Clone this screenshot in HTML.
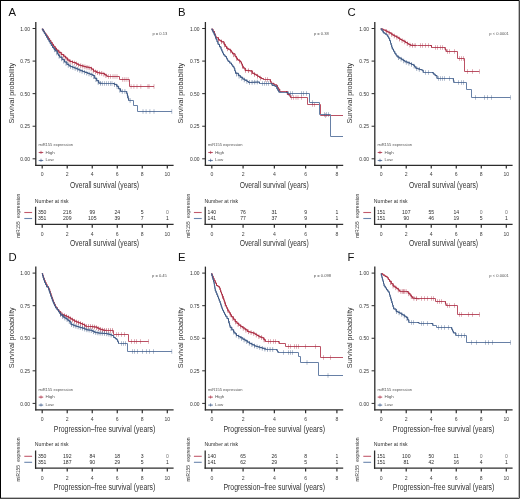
<!DOCTYPE html>
<html><head><meta charset="utf-8"><title>Kaplan-Meier survival curves by miR155 expression</title>
<style>
html,body{margin:0;padding:0;background:#fff;}
body{width:520px;height:499px;overflow:hidden;position:relative;}
svg{position:absolute;left:0;top:0;display:block;will-change:transform;font-family:"Liberation Sans",sans-serif;}
</style></head>
<body>
<svg width="520" height="499" viewBox="0 0 520 499">
<rect x="0" y="0" width="520" height="499" fill="#fff"/>
<text x="8.40" y="15.90" font-size="11.3" fill="#111">A</text>
<line x1="35.80" y1="22.00" x2="35.80" y2="165.90" stroke="#2c2c2c" stroke-width="1.3"/>
<line x1="35.20" y1="165.30" x2="173.60" y2="165.30" stroke="#2c2c2c" stroke-width="1.3"/>
<line x1="32.60" y1="28.50" x2="35.80" y2="28.50" stroke="#2c2c2c" stroke-width="1.0"/>
<text x="29.90" y="30.70" font-size="5.3" fill="#333" text-anchor="end" textLength="9.6" lengthAdjust="spacingAndGlyphs">1.00</text>
<line x1="32.60" y1="61.08" x2="35.80" y2="61.08" stroke="#2c2c2c" stroke-width="1.0"/>
<text x="29.90" y="63.28" font-size="5.3" fill="#333" text-anchor="end" textLength="9.6" lengthAdjust="spacingAndGlyphs">0.75</text>
<line x1="32.60" y1="93.65" x2="35.80" y2="93.65" stroke="#2c2c2c" stroke-width="1.0"/>
<text x="29.90" y="95.85" font-size="5.3" fill="#333" text-anchor="end" textLength="9.6" lengthAdjust="spacingAndGlyphs">0.50</text>
<line x1="32.60" y1="126.23" x2="35.80" y2="126.23" stroke="#2c2c2c" stroke-width="1.0"/>
<text x="29.90" y="128.43" font-size="5.3" fill="#333" text-anchor="end" textLength="9.6" lengthAdjust="spacingAndGlyphs">0.25</text>
<line x1="32.60" y1="158.80" x2="35.80" y2="158.80" stroke="#2c2c2c" stroke-width="1.0"/>
<text x="29.90" y="161.00" font-size="5.3" fill="#333" text-anchor="end" textLength="9.6" lengthAdjust="spacingAndGlyphs">0.00</text>
<line x1="42.20" y1="165.30" x2="42.20" y2="168.60" stroke="#2c2c2c" stroke-width="1.2"/>
<text x="42.20" y="176.25" font-size="5.1" fill="#444" text-anchor="middle">0</text>
<line x1="67.22" y1="165.30" x2="67.22" y2="168.60" stroke="#2c2c2c" stroke-width="1.2"/>
<text x="67.22" y="176.25" font-size="5.1" fill="#444" text-anchor="middle">2</text>
<line x1="92.24" y1="165.30" x2="92.24" y2="168.60" stroke="#2c2c2c" stroke-width="1.2"/>
<text x="92.24" y="176.25" font-size="5.1" fill="#444" text-anchor="middle">4</text>
<line x1="117.26" y1="165.30" x2="117.26" y2="168.60" stroke="#2c2c2c" stroke-width="1.2"/>
<text x="117.26" y="176.25" font-size="5.1" fill="#444" text-anchor="middle">6</text>
<line x1="142.28" y1="165.30" x2="142.28" y2="168.60" stroke="#2c2c2c" stroke-width="1.2"/>
<text x="142.28" y="176.25" font-size="5.1" fill="#444" text-anchor="middle">8</text>
<line x1="167.30" y1="165.30" x2="167.30" y2="168.60" stroke="#2c2c2c" stroke-width="1.2"/>
<text x="167.30" y="176.25" font-size="5.1" fill="#444" text-anchor="middle">10</text>
<text transform="translate(13.70,93.25) rotate(-90)" font-size="7.6" fill="#333" text-anchor="middle" textLength="60.7" lengthAdjust="spacingAndGlyphs">Survival probability</text>
<text x="104.60" y="187.75" font-size="8.3" fill="#333" text-anchor="middle" textLength="69.0" lengthAdjust="spacingAndGlyphs">Overall survival (years)</text>
<text x="167.30" y="35.20" font-size="4.1" fill="#555" text-anchor="end">p = 0.13</text>
<text x="38.40" y="146.40" font-size="4.1" fill="#555" textLength="34.6" lengthAdjust="spacingAndGlyphs">miR155 expression</text>
<line x1="38.70" y1="152.50" x2="43.20" y2="152.50" stroke="#bb5164" stroke-width="1.1"/>
<line x1="41.00" y1="150.80" x2="41.00" y2="154.00" stroke="#a9283f" stroke-width="0.6"/>
<text x="45.40" y="153.60" font-size="4.3" fill="#555" textLength="9.4" lengthAdjust="spacingAndGlyphs">High</text>
<line x1="38.70" y1="160.50" x2="43.20" y2="160.50" stroke="#6780a6" stroke-width="1.1"/>
<line x1="41.00" y1="158.70" x2="41.00" y2="161.90" stroke="#37537f" stroke-width="0.6"/>
<text x="45.50" y="161.40" font-size="4.3" fill="#555" textLength="8.2" lengthAdjust="spacingAndGlyphs">Low</text>
<polyline points="41.90,29.20 43.19,29.20 43.19,31.10 44.48,31.10 44.48,33.00 45.77,33.00 45.77,34.90 47.06,34.90 47.06,36.80 48.34,36.80 48.34,38.70 49.63,38.70 49.63,40.60 50.92,40.60 50.92,42.50 52.21,42.50 52.21,44.40 53.50,44.40 53.50,46.30 55.00,46.30 55.00,48.30 56.50,48.30 56.50,50.30 58.75,50.30 58.75,52.40 61.20,52.40 61.20,54.50 63.60,54.50 63.60,56.20 65.50,56.20 65.50,57.90 67.40,57.90 67.40,60.05 69.80,60.05 69.80,61.50 72.70,61.50 72.70,62.50 75.60,62.50 75.60,63.40 77.15,63.40 77.15,64.25 78.70,64.25 78.70,65.10 80.50,65.10 80.50,65.60 82.30,65.60 82.30,66.10 84.10,66.10 84.10,66.60 85.90,66.60 85.90,67.10 88.70,67.10 88.70,67.70 91.50,67.70 91.50,69.10 93.50,69.10 93.50,71.10 96.30,71.10 96.30,72.30 97.90,72.30 97.90,72.70 99.50,72.70 99.50,73.10 101.10,73.10 101.10,73.30 102.70,73.30 102.70,73.50 104.50,73.50 104.50,74.70 106.30,74.70 106.30,75.90 107.50,75.90 107.50,76.50 119.50,76.50 119.50,79.50 129.50,79.50 129.50,86.50 154.00,86.50" fill="none" stroke="#bb5164" stroke-width="1.0" stroke-linejoin="miter"/>
<polyline points="41.90,29.20 43.19,29.20 43.19,31.10 44.48,31.10 44.48,33.00 45.77,33.00 45.77,34.90 47.06,34.90 47.06,36.80 48.34,36.80 48.34,38.70 49.63,38.70 49.63,40.60 50.92,40.60 50.92,42.50 52.21,42.50 52.21,44.40 53.50,44.40 53.50,46.30 55.00,46.30 55.00,48.30 56.50,48.30 56.50,50.30 58.75,50.30 58.75,52.40 61.20,52.40 61.20,54.50 63.60,54.50 63.60,56.20 65.50,56.20 65.50,57.90 67.40,57.90 67.40,60.05 69.80,60.05 69.80,61.50 72.70,61.50 72.70,62.50 75.60,62.50 75.60,63.40 77.15,63.40 77.15,64.25 78.70,64.25 78.70,65.10 80.50,65.10 80.50,65.60 82.30,65.60 82.30,66.10 84.10,66.10 84.10,66.60 85.90,66.60 85.90,67.10 88.70,67.10 88.70,67.70 91.50,67.70 91.50,69.10 93.50,69.10 93.50,71.10 96.30,71.10 96.30,72.30 97.90,72.30 97.90,72.70 99.50,72.70 99.50,73.10 101.10,73.10 101.10,73.30 102.70,73.30 102.70,73.50 104.50,73.50 104.50,74.70 106.30,74.70 106.30,75.90 107.50,75.90 107.50,76.50" fill="none" stroke="#a9283f" stroke-width="1.0" stroke-linejoin="miter" opacity="0.8"/>
<line x1="108.50" y1="74.20" x2="108.50" y2="78.80" stroke="#a9283f" stroke-width="0.75" opacity="0.5"/>
<line x1="110.50" y1="74.20" x2="110.50" y2="78.80" stroke="#a9283f" stroke-width="0.75" opacity="0.5"/>
<line x1="113.00" y1="74.20" x2="113.00" y2="78.80" stroke="#a9283f" stroke-width="0.75" opacity="0.5"/>
<line x1="115.00" y1="74.20" x2="115.00" y2="78.80" stroke="#a9283f" stroke-width="0.75" opacity="0.5"/>
<line x1="117.00" y1="74.20" x2="117.00" y2="78.80" stroke="#a9283f" stroke-width="0.75" opacity="0.5"/>
<line x1="122.40" y1="77.20" x2="122.40" y2="81.80" stroke="#a9283f" stroke-width="0.75" opacity="0.5"/>
<line x1="124.25" y1="77.20" x2="124.25" y2="81.80" stroke="#a9283f" stroke-width="0.75" opacity="0.5"/>
<line x1="126.10" y1="77.20" x2="126.10" y2="81.80" stroke="#a9283f" stroke-width="0.75" opacity="0.5"/>
<line x1="128.10" y1="77.20" x2="128.10" y2="81.80" stroke="#a9283f" stroke-width="0.75" opacity="0.5"/>
<line x1="131.10" y1="84.20" x2="131.10" y2="88.80" stroke="#a9283f" stroke-width="0.75" opacity="0.5"/>
<line x1="133.90" y1="84.20" x2="133.90" y2="88.80" stroke="#a9283f" stroke-width="0.75" opacity="0.5"/>
<line x1="137.00" y1="84.20" x2="137.00" y2="88.80" stroke="#a9283f" stroke-width="0.75" opacity="0.5"/>
<line x1="140.80" y1="84.20" x2="140.80" y2="88.80" stroke="#a9283f" stroke-width="0.75" opacity="0.5"/>
<line x1="147.90" y1="84.20" x2="147.90" y2="88.80" stroke="#a9283f" stroke-width="0.75" opacity="0.5"/>
<line x1="149.10" y1="84.20" x2="149.10" y2="88.80" stroke="#a9283f" stroke-width="0.75" opacity="0.5"/>
<line x1="154.00" y1="84.20" x2="154.00" y2="88.80" stroke="#a9283f" stroke-width="0.75" opacity="0.5"/>
<line x1="55.50" y1="46.67" x2="55.50" y2="51.27" stroke="#a9283f" stroke-width="0.75" opacity="0.65"/>
<line x1="57.60" y1="49.03" x2="57.60" y2="53.63" stroke="#a9283f" stroke-width="0.75" opacity="0.65"/>
<line x1="59.70" y1="50.91" x2="59.70" y2="55.51" stroke="#a9283f" stroke-width="0.75" opacity="0.65"/>
<line x1="61.80" y1="52.62" x2="61.80" y2="57.22" stroke="#a9283f" stroke-width="0.75" opacity="0.65"/>
<line x1="63.90" y1="54.17" x2="63.90" y2="58.77" stroke="#a9283f" stroke-width="0.75" opacity="0.65"/>
<line x1="66.00" y1="56.17" x2="66.00" y2="60.77" stroke="#a9283f" stroke-width="0.75" opacity="0.65"/>
<line x1="68.10" y1="58.17" x2="68.10" y2="62.77" stroke="#a9283f" stroke-width="0.75" opacity="0.65"/>
<line x1="70.20" y1="59.34" x2="70.20" y2="63.94" stroke="#a9283f" stroke-width="0.75" opacity="0.65"/>
<line x1="72.30" y1="60.06" x2="72.30" y2="64.66" stroke="#a9283f" stroke-width="0.75" opacity="0.65"/>
<line x1="74.40" y1="60.73" x2="74.40" y2="65.33" stroke="#a9283f" stroke-width="0.75" opacity="0.65"/>
<line x1="76.50" y1="61.59" x2="76.50" y2="66.19" stroke="#a9283f" stroke-width="0.75" opacity="0.65"/>
<line x1="78.60" y1="62.75" x2="78.60" y2="67.35" stroke="#a9283f" stroke-width="0.75" opacity="0.65"/>
<line x1="80.70" y1="63.36" x2="80.70" y2="67.96" stroke="#a9283f" stroke-width="0.75" opacity="0.65"/>
<line x1="82.80" y1="63.94" x2="82.80" y2="68.54" stroke="#a9283f" stroke-width="0.75" opacity="0.65"/>
<line x1="84.90" y1="64.52" x2="84.90" y2="69.12" stroke="#a9283f" stroke-width="0.75" opacity="0.65"/>
<line x1="87.00" y1="65.04" x2="87.00" y2="69.64" stroke="#a9283f" stroke-width="0.75" opacity="0.65"/>
<line x1="89.10" y1="65.60" x2="89.10" y2="70.20" stroke="#a9283f" stroke-width="0.75" opacity="0.65"/>
<line x1="91.20" y1="66.65" x2="91.20" y2="71.25" stroke="#a9283f" stroke-width="0.75" opacity="0.65"/>
<line x1="93.30" y1="68.60" x2="93.30" y2="73.20" stroke="#a9283f" stroke-width="0.75" opacity="0.65"/>
<line x1="95.40" y1="69.61" x2="95.40" y2="74.21" stroke="#a9283f" stroke-width="0.75" opacity="0.65"/>
<line x1="97.50" y1="70.30" x2="97.50" y2="74.90" stroke="#a9283f" stroke-width="0.75" opacity="0.65"/>
<line x1="99.60" y1="70.81" x2="99.60" y2="75.41" stroke="#a9283f" stroke-width="0.75" opacity="0.65"/>
<line x1="101.70" y1="71.07" x2="101.70" y2="75.67" stroke="#a9283f" stroke-width="0.75" opacity="0.65"/>
<line x1="103.80" y1="71.93" x2="103.80" y2="76.53" stroke="#a9283f" stroke-width="0.75" opacity="0.65"/>
<line x1="105.90" y1="73.33" x2="105.90" y2="77.93" stroke="#a9283f" stroke-width="0.75" opacity="0.65"/>
<polyline points="41.90,29.20 43.08,29.20 43.08,31.23 44.26,31.23 44.26,33.27 45.43,33.27 45.43,35.30 46.61,35.30 46.61,37.33 47.79,37.33 47.79,39.37 48.97,39.37 48.97,41.40 50.14,41.40 50.14,43.43 51.32,43.43 51.32,45.47 52.50,45.47 52.50,47.50 53.95,47.50 53.95,49.20 55.40,49.20 55.40,50.90 57.30,50.90 57.30,53.80 58.50,53.80 58.50,55.50 59.70,55.50 59.70,57.20 62.10,57.20 62.10,59.60 64.50,59.60 64.50,62.00 66.90,62.00 66.90,64.40 69.00,64.40 69.00,65.90 70.75,65.90 70.75,66.60 72.50,66.60 72.50,67.30 74.50,67.30 74.50,68.10 76.50,68.10 76.50,68.90 78.40,68.90 78.40,69.80 80.30,69.80 80.30,70.70 82.70,70.70 82.70,71.60 85.10,71.60 85.10,72.50 87.50,72.50 87.50,73.40 89.90,73.40 89.90,74.30 92.70,74.30 92.70,75.50 94.70,75.50 94.70,78.30 96.70,78.30 96.70,80.70 98.70,80.70 98.70,83.10 100.30,83.10 100.30,83.30 101.90,83.30 101.90,83.50 113.00,83.50 114.25,83.50 114.25,84.40 116.75,84.40 116.75,86.30 118.60,86.30 118.60,88.80 120.50,88.80 120.50,91.30 122.40,91.30 122.40,91.50 126.10,91.50 126.75,91.50 126.75,93.60 127.40,93.60 127.40,95.70 128.00,95.70 128.00,98.10 128.60,98.10 128.60,100.50 133.50,100.50 133.50,105.50 137.50,105.50 137.50,111.50 171.75,111.50" fill="none" stroke="#6780a6" stroke-width="1.0" stroke-linejoin="miter"/>
<polyline points="41.90,29.20 43.08,29.20 43.08,31.23 44.26,31.23 44.26,33.27 45.43,33.27 45.43,35.30 46.61,35.30 46.61,37.33 47.79,37.33 47.79,39.37 48.97,39.37 48.97,41.40 50.14,41.40 50.14,43.43 51.32,43.43 51.32,45.47 52.50,45.47 52.50,47.50 53.95,47.50 53.95,49.20 55.40,49.20 55.40,50.90 57.30,50.90 57.30,53.80 58.50,53.80 58.50,55.50 59.70,55.50 59.70,57.20 62.10,57.20 62.10,59.60 64.50,59.60 64.50,62.00 66.90,62.00 66.90,64.40 69.00,64.40 69.00,65.90 70.75,65.90 70.75,66.60 72.50,66.60 72.50,67.30 74.50,67.30 74.50,68.10 76.50,68.10 76.50,68.90 78.40,68.90 78.40,69.80 80.30,69.80 80.30,70.70 82.70,70.70 82.70,71.60 85.10,71.60 85.10,72.50 87.50,72.50 87.50,73.40 89.90,73.40 89.90,74.30 92.70,74.30 92.70,75.50 94.70,75.50 94.70,78.30 96.70,78.30 96.70,80.70 98.70,80.70 98.70,83.10 100.30,83.10 100.30,83.30 101.90,83.30 101.90,83.50" fill="none" stroke="#37537f" stroke-width="1.0" stroke-linejoin="miter" opacity="0.8"/>
<polyline points="113.00,83.50 114.25,83.50 114.25,84.40 116.75,84.40 116.75,86.30 118.60,86.30 118.60,88.80 120.50,88.80 120.50,91.30 122.40,91.30 122.40,91.50" fill="none" stroke="#37537f" stroke-width="1.0" stroke-linejoin="miter" opacity="0.8"/>
<polyline points="126.10,91.50 126.75,91.50 126.75,93.60 127.40,93.60 127.40,95.70 128.00,95.70 128.00,98.10 128.60,98.10 128.60,100.50" fill="none" stroke="#37537f" stroke-width="1.0" stroke-linejoin="miter" opacity="0.8"/>
<line x1="102.50" y1="81.20" x2="102.50" y2="85.80" stroke="#37537f" stroke-width="0.75" opacity="0.5"/>
<line x1="104.50" y1="81.20" x2="104.50" y2="85.80" stroke="#37537f" stroke-width="0.75" opacity="0.5"/>
<line x1="106.50" y1="81.20" x2="106.50" y2="85.80" stroke="#37537f" stroke-width="0.75" opacity="0.5"/>
<line x1="108.50" y1="81.20" x2="108.50" y2="85.80" stroke="#37537f" stroke-width="0.75" opacity="0.5"/>
<line x1="110.50" y1="81.20" x2="110.50" y2="85.80" stroke="#37537f" stroke-width="0.75" opacity="0.5"/>
<line x1="112.00" y1="81.20" x2="112.00" y2="85.80" stroke="#37537f" stroke-width="0.75" opacity="0.5"/>
<line x1="143.00" y1="109.20" x2="143.00" y2="113.80" stroke="#37537f" stroke-width="0.75" opacity="0.5"/>
<line x1="146.10" y1="109.20" x2="146.10" y2="113.80" stroke="#37537f" stroke-width="0.75" opacity="0.5"/>
<line x1="149.90" y1="109.20" x2="149.90" y2="113.80" stroke="#37537f" stroke-width="0.75" opacity="0.5"/>
<line x1="154.00" y1="109.20" x2="154.00" y2="113.80" stroke="#37537f" stroke-width="0.75" opacity="0.5"/>
<line x1="171.75" y1="109.20" x2="171.75" y2="113.80" stroke="#37537f" stroke-width="0.75" opacity="0.5"/>
<line x1="54.50" y1="47.54" x2="54.50" y2="52.14" stroke="#37537f" stroke-width="0.75" opacity="0.65"/>
<line x1="56.80" y1="50.74" x2="56.80" y2="55.34" stroke="#37537f" stroke-width="0.75" opacity="0.65"/>
<line x1="59.10" y1="54.05" x2="59.10" y2="58.65" stroke="#37537f" stroke-width="0.75" opacity="0.65"/>
<line x1="61.40" y1="56.60" x2="61.40" y2="61.20" stroke="#37537f" stroke-width="0.75" opacity="0.65"/>
<line x1="63.70" y1="58.90" x2="63.70" y2="63.50" stroke="#37537f" stroke-width="0.75" opacity="0.65"/>
<line x1="66.00" y1="61.20" x2="66.00" y2="65.80" stroke="#37537f" stroke-width="0.75" opacity="0.65"/>
<line x1="68.30" y1="63.10" x2="68.30" y2="67.70" stroke="#37537f" stroke-width="0.75" opacity="0.65"/>
<line x1="70.60" y1="64.24" x2="70.60" y2="68.84" stroke="#37537f" stroke-width="0.75" opacity="0.65"/>
<line x1="72.90" y1="65.16" x2="72.90" y2="69.76" stroke="#37537f" stroke-width="0.75" opacity="0.65"/>
<line x1="75.20" y1="66.08" x2="75.20" y2="70.68" stroke="#37537f" stroke-width="0.75" opacity="0.65"/>
<line x1="77.50" y1="67.07" x2="77.50" y2="71.67" stroke="#37537f" stroke-width="0.75" opacity="0.65"/>
<line x1="79.80" y1="68.16" x2="79.80" y2="72.76" stroke="#37537f" stroke-width="0.75" opacity="0.65"/>
<line x1="82.10" y1="69.07" x2="82.10" y2="73.67" stroke="#37537f" stroke-width="0.75" opacity="0.65"/>
<line x1="84.40" y1="69.94" x2="84.40" y2="74.54" stroke="#37537f" stroke-width="0.75" opacity="0.65"/>
<line x1="86.70" y1="70.80" x2="86.70" y2="75.40" stroke="#37537f" stroke-width="0.75" opacity="0.65"/>
<line x1="89.00" y1="71.66" x2="89.00" y2="76.26" stroke="#37537f" stroke-width="0.75" opacity="0.65"/>
<line x1="91.30" y1="72.60" x2="91.30" y2="77.20" stroke="#37537f" stroke-width="0.75" opacity="0.65"/>
<line x1="93.60" y1="74.46" x2="93.60" y2="79.06" stroke="#37537f" stroke-width="0.75" opacity="0.65"/>
<line x1="95.90" y1="77.44" x2="95.90" y2="82.04" stroke="#37537f" stroke-width="0.75" opacity="0.65"/>
<line x1="98.20" y1="80.20" x2="98.20" y2="84.80" stroke="#37537f" stroke-width="0.75" opacity="0.65"/>
<line x1="100.50" y1="81.02" x2="100.50" y2="85.62" stroke="#37537f" stroke-width="0.75" opacity="0.65"/>
<line x1="114.50" y1="82.29" x2="114.50" y2="86.89" stroke="#37537f" stroke-width="0.75" opacity="0.65"/>
<line x1="117.10" y1="84.47" x2="117.10" y2="89.07" stroke="#37537f" stroke-width="0.75" opacity="0.65"/>
<line x1="119.70" y1="87.95" x2="119.70" y2="92.55" stroke="#37537f" stroke-width="0.75" opacity="0.65"/>
<line x1="122.30" y1="89.19" x2="122.30" y2="93.79" stroke="#37537f" stroke-width="0.75" opacity="0.65"/>
<line x1="124.90" y1="89.20" x2="124.90" y2="93.80" stroke="#37537f" stroke-width="0.75" opacity="0.65"/>
<line x1="127.50" y1="93.80" x2="127.50" y2="98.40" stroke="#37537f" stroke-width="0.75" opacity="0.65"/>
<line x1="130.10" y1="98.20" x2="130.10" y2="102.80" stroke="#37537f" stroke-width="0.75" opacity="0.65"/>
<text x="34.80" y="202.55" font-size="5.1" fill="#2e2e2e" textLength="33.8" lengthAdjust="spacingAndGlyphs">Number at risk</text>
<line x1="35.60" y1="206.70" x2="35.60" y2="225.00" stroke="#2c2c2c" stroke-width="1.3"/>
<line x1="35.00" y1="224.40" x2="173.60" y2="224.40" stroke="#2c2c2c" stroke-width="1.3"/>
<line x1="42.20" y1="224.40" x2="42.20" y2="227.80" stroke="#2c2c2c" stroke-width="1.2"/>
<text x="42.20" y="235.75" font-size="5.1" fill="#444" text-anchor="middle">0</text>
<text x="42.20" y="213.85" font-size="5.1" fill="#2e2e2e" text-anchor="middle">350</text>
<text x="42.20" y="220.15" font-size="5.1" fill="#2e2e2e" text-anchor="middle">351</text>
<line x1="67.22" y1="224.40" x2="67.22" y2="227.80" stroke="#2c2c2c" stroke-width="1.2"/>
<text x="67.22" y="235.75" font-size="5.1" fill="#444" text-anchor="middle">2</text>
<text x="67.22" y="213.85" font-size="5.1" fill="#2e2e2e" text-anchor="middle">216</text>
<text x="67.22" y="220.15" font-size="5.1" fill="#2e2e2e" text-anchor="middle">209</text>
<line x1="92.24" y1="224.40" x2="92.24" y2="227.80" stroke="#2c2c2c" stroke-width="1.2"/>
<text x="92.24" y="235.75" font-size="5.1" fill="#444" text-anchor="middle">4</text>
<text x="92.24" y="213.85" font-size="5.1" fill="#2e2e2e" text-anchor="middle">99</text>
<text x="92.24" y="220.15" font-size="5.1" fill="#2e2e2e" text-anchor="middle">105</text>
<line x1="117.26" y1="224.40" x2="117.26" y2="227.80" stroke="#2c2c2c" stroke-width="1.2"/>
<text x="117.26" y="235.75" font-size="5.1" fill="#444" text-anchor="middle">6</text>
<text x="117.26" y="213.85" font-size="5.1" fill="#2e2e2e" text-anchor="middle">24</text>
<text x="117.26" y="220.15" font-size="5.1" fill="#2e2e2e" text-anchor="middle">39</text>
<line x1="142.28" y1="224.40" x2="142.28" y2="227.80" stroke="#2c2c2c" stroke-width="1.2"/>
<text x="142.28" y="235.75" font-size="5.1" fill="#444" text-anchor="middle">8</text>
<text x="142.28" y="213.85" font-size="5.1" fill="#2e2e2e" text-anchor="middle">5</text>
<text x="142.28" y="220.15" font-size="5.1" fill="#2e2e2e" text-anchor="middle">7</text>
<line x1="167.30" y1="224.40" x2="167.30" y2="227.80" stroke="#2c2c2c" stroke-width="1.2"/>
<text x="167.30" y="235.75" font-size="5.1" fill="#444" text-anchor="middle">10</text>
<text x="167.30" y="213.85" font-size="5.1" fill="#777" text-anchor="middle">0</text>
<text x="167.30" y="220.15" font-size="5.1" fill="#2e2e2e" text-anchor="middle">1</text>
<text x="104.60" y="245.80" font-size="8.3" fill="#333" text-anchor="middle" textLength="69.0" lengthAdjust="spacingAndGlyphs">Overall survival (years)</text>
<text transform="translate(20.30,237.70) rotate(-90)" font-size="5.2" fill="#333" textLength="16.3" lengthAdjust="spacingAndGlyphs">miR155</text>
<text transform="translate(20.30,217.90) rotate(-90)" font-size="5.2" fill="#333" textLength="24.3" lengthAdjust="spacingAndGlyphs">expression</text>
<line x1="24.30" y1="212.50" x2="32.10" y2="212.50" stroke="#c25a6c" stroke-width="1.1"/>
<line x1="24.30" y1="218.50" x2="32.10" y2="218.50" stroke="#6a85ad" stroke-width="1.1"/>
<text x="178.00" y="15.90" font-size="11.3" fill="#111">B</text>
<line x1="205.40" y1="22.00" x2="205.40" y2="165.90" stroke="#2c2c2c" stroke-width="1.3"/>
<line x1="204.80" y1="165.30" x2="343.20" y2="165.30" stroke="#2c2c2c" stroke-width="1.3"/>
<line x1="202.20" y1="28.50" x2="205.40" y2="28.50" stroke="#2c2c2c" stroke-width="1.0"/>
<text x="199.50" y="30.70" font-size="5.3" fill="#333" text-anchor="end" textLength="9.6" lengthAdjust="spacingAndGlyphs">1.00</text>
<line x1="202.20" y1="61.08" x2="205.40" y2="61.08" stroke="#2c2c2c" stroke-width="1.0"/>
<text x="199.50" y="63.28" font-size="5.3" fill="#333" text-anchor="end" textLength="9.6" lengthAdjust="spacingAndGlyphs">0.75</text>
<line x1="202.20" y1="93.65" x2="205.40" y2="93.65" stroke="#2c2c2c" stroke-width="1.0"/>
<text x="199.50" y="95.85" font-size="5.3" fill="#333" text-anchor="end" textLength="9.6" lengthAdjust="spacingAndGlyphs">0.50</text>
<line x1="202.20" y1="126.23" x2="205.40" y2="126.23" stroke="#2c2c2c" stroke-width="1.0"/>
<text x="199.50" y="128.43" font-size="5.3" fill="#333" text-anchor="end" textLength="9.6" lengthAdjust="spacingAndGlyphs">0.25</text>
<line x1="202.20" y1="158.80" x2="205.40" y2="158.80" stroke="#2c2c2c" stroke-width="1.0"/>
<text x="199.50" y="161.00" font-size="5.3" fill="#333" text-anchor="end" textLength="9.6" lengthAdjust="spacingAndGlyphs">0.00</text>
<line x1="211.80" y1="165.30" x2="211.80" y2="168.60" stroke="#2c2c2c" stroke-width="1.2"/>
<text x="211.80" y="176.25" font-size="5.1" fill="#444" text-anchor="middle">0</text>
<line x1="243.08" y1="165.30" x2="243.08" y2="168.60" stroke="#2c2c2c" stroke-width="1.2"/>
<text x="243.08" y="176.25" font-size="5.1" fill="#444" text-anchor="middle">2</text>
<line x1="274.35" y1="165.30" x2="274.35" y2="168.60" stroke="#2c2c2c" stroke-width="1.2"/>
<text x="274.35" y="176.25" font-size="5.1" fill="#444" text-anchor="middle">4</text>
<line x1="305.62" y1="165.30" x2="305.62" y2="168.60" stroke="#2c2c2c" stroke-width="1.2"/>
<text x="305.62" y="176.25" font-size="5.1" fill="#444" text-anchor="middle">6</text>
<line x1="336.90" y1="165.30" x2="336.90" y2="168.60" stroke="#2c2c2c" stroke-width="1.2"/>
<text x="336.90" y="176.25" font-size="5.1" fill="#444" text-anchor="middle">8</text>
<text transform="translate(182.80,93.25) rotate(-90)" font-size="7.6" fill="#333" text-anchor="middle" textLength="60.7" lengthAdjust="spacingAndGlyphs">Survival probability</text>
<text x="274.20" y="187.75" font-size="8.3" fill="#333" text-anchor="middle" textLength="69.0" lengthAdjust="spacingAndGlyphs">Overall survival (years)</text>
<text x="328.80" y="35.20" font-size="4.1" fill="#555" text-anchor="end">p = 0.38</text>
<text x="208.00" y="146.40" font-size="4.1" fill="#555" textLength="34.6" lengthAdjust="spacingAndGlyphs">miR155 expression</text>
<line x1="208.30" y1="152.50" x2="212.80" y2="152.50" stroke="#bb5164" stroke-width="1.1"/>
<line x1="210.60" y1="150.80" x2="210.60" y2="154.00" stroke="#a9283f" stroke-width="0.6"/>
<text x="215.00" y="153.60" font-size="4.3" fill="#555" textLength="9.4" lengthAdjust="spacingAndGlyphs">High</text>
<line x1="208.30" y1="160.50" x2="212.80" y2="160.50" stroke="#6780a6" stroke-width="1.1"/>
<line x1="210.60" y1="158.70" x2="210.60" y2="161.90" stroke="#37537f" stroke-width="0.6"/>
<text x="215.10" y="161.40" font-size="4.3" fill="#555" textLength="8.2" lengthAdjust="spacingAndGlyphs">Low</text>
<polyline points="211.50,29.20 213.00,29.20 213.00,31.50 214.50,31.50 214.50,33.80 215.25,33.80 215.25,35.80 216.00,35.80 216.00,37.80 218.50,37.80 218.50,39.80 220.00,39.80 220.00,40.80 221.50,40.80 221.50,41.80 224.00,41.80 224.00,44.30 225.25,44.30 225.25,46.30 226.50,46.30 226.50,48.30 228.25,48.30 228.25,49.30 230.00,49.30 230.00,50.30 231.25,50.30 231.25,52.05 232.50,52.05 232.50,53.80 235.00,53.80 235.00,56.30 236.25,56.30 236.25,58.10 237.50,58.10 237.50,59.90 239.00,59.90 239.00,60.90 240.50,60.90 240.50,61.90 241.40,61.90 241.40,63.93 242.30,63.93 242.30,65.97 243.20,65.97 243.20,68.00 245.10,68.00 245.10,70.40 247.50,70.40 247.50,70.65 249.90,70.65 249.90,70.90 252.30,70.90 252.30,73.30 254.25,73.30 254.25,74.30 256.20,74.30 256.20,75.30 257.85,75.30 257.85,76.45 259.50,76.45 259.50,77.60 261.45,77.60 261.45,78.55 263.40,78.55 263.40,79.50 269.60,79.50 270.35,79.50 270.35,81.45 271.10,81.45 271.10,83.40 274.00,83.40 274.00,84.90 276.80,84.90 276.80,85.80 277.55,85.80 277.55,87.50 278.30,87.50 278.30,89.20 279.70,89.20 279.70,91.50 285.50,91.50 287.40,91.50 287.40,94.40 289.90,94.40 289.90,96.30 290.50,96.30 290.50,97.50 307.50,97.50 307.50,104.50 320.50,104.50 320.50,115.50 343.00,115.50" fill="none" stroke="#bb5164" stroke-width="1.0" stroke-linejoin="miter"/>
<polyline points="211.50,29.20 213.00,29.20 213.00,31.50 214.50,31.50 214.50,33.80 215.25,33.80 215.25,35.80 216.00,35.80 216.00,37.80 218.50,37.80 218.50,39.80 220.00,39.80 220.00,40.80 221.50,40.80 221.50,41.80 224.00,41.80 224.00,44.30 225.25,44.30 225.25,46.30 226.50,46.30 226.50,48.30 228.25,48.30 228.25,49.30 230.00,49.30 230.00,50.30 231.25,50.30 231.25,52.05 232.50,52.05 232.50,53.80 235.00,53.80 235.00,56.30 236.25,56.30 236.25,58.10 237.50,58.10 237.50,59.90 239.00,59.90 239.00,60.90 240.50,60.90 240.50,61.90 241.40,61.90 241.40,63.93 242.30,63.93 242.30,65.97 243.20,65.97 243.20,68.00 245.10,68.00 245.10,70.40 247.50,70.40 247.50,70.65 249.90,70.65 249.90,70.90 252.30,70.90 252.30,73.30 254.25,73.30 254.25,74.30 256.20,74.30 256.20,75.30 257.85,75.30 257.85,76.45 259.50,76.45 259.50,77.60 261.45,77.60 261.45,78.55 263.40,78.55 263.40,79.50" fill="none" stroke="#a9283f" stroke-width="1.0" stroke-linejoin="miter" opacity="0.8"/>
<polyline points="269.60,79.50 270.35,79.50 270.35,81.45 271.10,81.45 271.10,83.40 274.00,83.40 274.00,84.90 276.80,84.90 276.80,85.80 277.55,85.80 277.55,87.50 278.30,87.50 278.30,89.20 279.70,89.20 279.70,91.50" fill="none" stroke="#a9283f" stroke-width="1.0" stroke-linejoin="miter" opacity="0.8"/>
<polyline points="285.50,91.50 287.40,91.50 287.40,94.40 289.90,94.40 289.90,96.30 290.50,96.30 290.50,97.50" fill="none" stroke="#a9283f" stroke-width="1.0" stroke-linejoin="miter" opacity="0.8"/>
<line x1="265.50" y1="77.20" x2="265.50" y2="81.80" stroke="#a9283f" stroke-width="0.75" opacity="0.5"/>
<line x1="267.50" y1="77.20" x2="267.50" y2="81.80" stroke="#a9283f" stroke-width="0.75" opacity="0.5"/>
<line x1="291.50" y1="95.20" x2="291.50" y2="99.80" stroke="#a9283f" stroke-width="0.75" opacity="0.5"/>
<line x1="293.50" y1="95.20" x2="293.50" y2="99.80" stroke="#a9283f" stroke-width="0.75" opacity="0.5"/>
<line x1="296.00" y1="95.20" x2="296.00" y2="99.80" stroke="#a9283f" stroke-width="0.75" opacity="0.5"/>
<line x1="298.00" y1="95.20" x2="298.00" y2="99.80" stroke="#a9283f" stroke-width="0.75" opacity="0.5"/>
<line x1="301.50" y1="95.20" x2="301.50" y2="99.80" stroke="#a9283f" stroke-width="0.75" opacity="0.5"/>
<line x1="312.50" y1="102.20" x2="312.50" y2="106.80" stroke="#a9283f" stroke-width="0.75" opacity="0.5"/>
<line x1="314.50" y1="102.20" x2="314.50" y2="106.80" stroke="#a9283f" stroke-width="0.75" opacity="0.5"/>
<line x1="325.50" y1="113.20" x2="325.50" y2="117.80" stroke="#a9283f" stroke-width="0.75" opacity="0.5"/>
<line x1="218.50" y1="37.50" x2="218.50" y2="42.10" stroke="#a9283f" stroke-width="0.75" opacity="0.65"/>
<line x1="221.50" y1="39.50" x2="221.50" y2="44.10" stroke="#a9283f" stroke-width="0.75" opacity="0.65"/>
<line x1="224.50" y1="42.80" x2="224.50" y2="47.40" stroke="#a9283f" stroke-width="0.75" opacity="0.65"/>
<line x1="227.50" y1="46.57" x2="227.50" y2="51.17" stroke="#a9283f" stroke-width="0.75" opacity="0.65"/>
<line x1="230.50" y1="48.70" x2="230.50" y2="53.30" stroke="#a9283f" stroke-width="0.75" opacity="0.65"/>
<line x1="233.50" y1="52.50" x2="233.50" y2="57.10" stroke="#a9283f" stroke-width="0.75" opacity="0.65"/>
<line x1="236.50" y1="56.16" x2="236.50" y2="60.76" stroke="#a9283f" stroke-width="0.75" opacity="0.65"/>
<line x1="239.50" y1="58.93" x2="239.50" y2="63.53" stroke="#a9283f" stroke-width="0.75" opacity="0.65"/>
<line x1="242.50" y1="64.12" x2="242.50" y2="68.72" stroke="#a9283f" stroke-width="0.75" opacity="0.65"/>
<line x1="245.50" y1="68.14" x2="245.50" y2="72.74" stroke="#a9283f" stroke-width="0.75" opacity="0.65"/>
<line x1="248.50" y1="68.45" x2="248.50" y2="73.05" stroke="#a9283f" stroke-width="0.75" opacity="0.65"/>
<line x1="251.50" y1="70.20" x2="251.50" y2="74.80" stroke="#a9283f" stroke-width="0.75" opacity="0.65"/>
<line x1="254.50" y1="72.13" x2="254.50" y2="76.73" stroke="#a9283f" stroke-width="0.75" opacity="0.65"/>
<line x1="257.50" y1="73.91" x2="257.50" y2="78.51" stroke="#a9283f" stroke-width="0.75" opacity="0.65"/>
<line x1="260.50" y1="75.79" x2="260.50" y2="80.39" stroke="#a9283f" stroke-width="0.75" opacity="0.65"/>
<polyline points="211.50,29.20 212.38,29.20 212.38,30.97 213.25,30.97 213.25,32.75 214.12,32.75 214.12,34.52 215.00,34.52 215.00,36.30 215.50,36.30 215.50,37.80 216.00,37.80 216.00,39.30 217.00,39.30 217.00,41.80 218.00,41.80 218.00,44.30 219.50,44.30 219.50,46.80 221.00,46.80 221.00,49.30 221.83,49.30 221.83,51.17 222.67,51.17 222.67,53.03 223.50,53.03 223.50,54.90 225.00,54.90 225.00,56.60 226.50,56.60 226.50,58.30 227.25,58.30 227.25,59.80 228.00,59.80 228.00,61.30 229.75,61.30 229.75,63.10 231.50,63.10 231.50,64.90 232.75,64.90 232.75,66.60 234.00,66.60 234.00,68.30 234.75,68.30 234.75,70.80 235.50,70.80 235.50,73.30 238.40,73.30 238.40,75.70 240.55,75.70 240.55,77.40 242.70,77.40 242.70,79.10 244.85,79.10 244.85,80.30 247.00,80.30 247.00,81.50 248.50,81.50 248.50,82.50 250.50,82.50 250.50,82.40 252.50,82.40 252.50,82.30 254.50,82.30 254.50,82.20 256.50,82.20 256.50,82.10 258.50,82.10 258.50,82.00 259.50,82.00 259.50,83.50 270.60,83.50 272.00,83.50 272.00,85.30 274.90,85.30 274.90,86.30 276.80,86.30 276.80,88.70 277.80,88.70 277.80,90.40 278.80,90.40 278.80,92.10 280.70,92.10 280.70,92.50 286.10,92.50 288.00,92.50 288.00,93.50 309.50,93.50 309.50,102.50 319.50,102.50 319.50,114.50 330.50,114.50 330.50,136.50 343.00,136.50" fill="none" stroke="#6780a6" stroke-width="1.0" stroke-linejoin="miter"/>
<polyline points="211.50,29.20 212.38,29.20 212.38,30.97 213.25,30.97 213.25,32.75 214.12,32.75 214.12,34.52 215.00,34.52 215.00,36.30 215.50,36.30 215.50,37.80 216.00,37.80 216.00,39.30 217.00,39.30 217.00,41.80 218.00,41.80 218.00,44.30 219.50,44.30 219.50,46.80 221.00,46.80 221.00,49.30 221.83,49.30 221.83,51.17 222.67,51.17 222.67,53.03 223.50,53.03 223.50,54.90 225.00,54.90 225.00,56.60 226.50,56.60 226.50,58.30 227.25,58.30 227.25,59.80 228.00,59.80 228.00,61.30 229.75,61.30 229.75,63.10 231.50,63.10 231.50,64.90 232.75,64.90 232.75,66.60 234.00,66.60 234.00,68.30 234.75,68.30 234.75,70.80 235.50,70.80 235.50,73.30 238.40,73.30 238.40,75.70 240.55,75.70 240.55,77.40 242.70,77.40 242.70,79.10 244.85,79.10 244.85,80.30 247.00,80.30 247.00,81.50 248.50,81.50 248.50,82.50 250.50,82.50 250.50,82.40 252.50,82.40 252.50,82.30 254.50,82.30 254.50,82.20 256.50,82.20 256.50,82.10 258.50,82.10 258.50,82.00 259.50,82.00 259.50,83.50" fill="none" stroke="#37537f" stroke-width="1.0" stroke-linejoin="miter" opacity="0.8"/>
<polyline points="270.60,83.50 272.00,83.50 272.00,85.30 274.90,85.30 274.90,86.30 276.80,86.30 276.80,88.70 277.80,88.70 277.80,90.40 278.80,90.40 278.80,92.10 280.70,92.10 280.70,92.50" fill="none" stroke="#37537f" stroke-width="1.0" stroke-linejoin="miter" opacity="0.8"/>
<polyline points="286.10,92.50 288.00,92.50 288.00,93.50" fill="none" stroke="#37537f" stroke-width="1.0" stroke-linejoin="miter" opacity="0.8"/>
<line x1="262.50" y1="81.20" x2="262.50" y2="85.80" stroke="#37537f" stroke-width="0.75" opacity="0.5"/>
<line x1="264.50" y1="81.20" x2="264.50" y2="85.80" stroke="#37537f" stroke-width="0.75" opacity="0.5"/>
<line x1="266.50" y1="81.20" x2="266.50" y2="85.80" stroke="#37537f" stroke-width="0.75" opacity="0.5"/>
<line x1="268.50" y1="81.20" x2="268.50" y2="85.80" stroke="#37537f" stroke-width="0.75" opacity="0.5"/>
<line x1="288.50" y1="91.20" x2="288.50" y2="95.80" stroke="#37537f" stroke-width="0.75" opacity="0.5"/>
<line x1="290.50" y1="91.20" x2="290.50" y2="95.80" stroke="#37537f" stroke-width="0.75" opacity="0.5"/>
<line x1="292.50" y1="91.20" x2="292.50" y2="95.80" stroke="#37537f" stroke-width="0.75" opacity="0.5"/>
<line x1="301.50" y1="91.20" x2="301.50" y2="95.80" stroke="#37537f" stroke-width="0.75" opacity="0.5"/>
<line x1="303.50" y1="91.20" x2="303.50" y2="95.80" stroke="#37537f" stroke-width="0.75" opacity="0.5"/>
<line x1="306.50" y1="91.20" x2="306.50" y2="95.80" stroke="#37537f" stroke-width="0.75" opacity="0.5"/>
<line x1="312.50" y1="100.20" x2="312.50" y2="104.80" stroke="#37537f" stroke-width="0.75" opacity="0.5"/>
<line x1="324.50" y1="112.20" x2="324.50" y2="116.80" stroke="#37537f" stroke-width="0.75" opacity="0.5"/>
<line x1="326.50" y1="112.20" x2="326.50" y2="116.80" stroke="#37537f" stroke-width="0.75" opacity="0.5"/>
<line x1="328.50" y1="112.20" x2="328.50" y2="116.80" stroke="#37537f" stroke-width="0.75" opacity="0.5"/>
<line x1="236.50" y1="71.83" x2="236.50" y2="76.43" stroke="#37537f" stroke-width="0.75" opacity="0.65"/>
<line x1="239.10" y1="73.95" x2="239.10" y2="78.55" stroke="#37537f" stroke-width="0.75" opacity="0.65"/>
<line x1="241.70" y1="76.01" x2="241.70" y2="80.61" stroke="#37537f" stroke-width="0.75" opacity="0.65"/>
<line x1="244.30" y1="77.69" x2="244.30" y2="82.29" stroke="#37537f" stroke-width="0.75" opacity="0.65"/>
<line x1="246.90" y1="79.14" x2="246.90" y2="83.74" stroke="#37537f" stroke-width="0.75" opacity="0.65"/>
<line x1="249.50" y1="80.15" x2="249.50" y2="84.75" stroke="#37537f" stroke-width="0.75" opacity="0.65"/>
<line x1="252.10" y1="80.02" x2="252.10" y2="84.62" stroke="#37537f" stroke-width="0.75" opacity="0.65"/>
<line x1="254.70" y1="79.89" x2="254.70" y2="84.49" stroke="#37537f" stroke-width="0.75" opacity="0.65"/>
<line x1="257.30" y1="79.76" x2="257.30" y2="84.36" stroke="#37537f" stroke-width="0.75" opacity="0.65"/>
<text x="204.40" y="202.55" font-size="5.1" fill="#2e2e2e" textLength="33.8" lengthAdjust="spacingAndGlyphs">Number at risk</text>
<line x1="205.20" y1="206.70" x2="205.20" y2="225.00" stroke="#2c2c2c" stroke-width="1.3"/>
<line x1="204.60" y1="224.40" x2="343.20" y2="224.40" stroke="#2c2c2c" stroke-width="1.3"/>
<line x1="211.80" y1="224.40" x2="211.80" y2="227.80" stroke="#2c2c2c" stroke-width="1.2"/>
<text x="211.80" y="235.75" font-size="5.1" fill="#444" text-anchor="middle">0</text>
<text x="211.80" y="213.85" font-size="5.1" fill="#2e2e2e" text-anchor="middle">140</text>
<text x="211.80" y="220.15" font-size="5.1" fill="#2e2e2e" text-anchor="middle">141</text>
<line x1="243.08" y1="224.40" x2="243.08" y2="227.80" stroke="#2c2c2c" stroke-width="1.2"/>
<text x="243.08" y="235.75" font-size="5.1" fill="#444" text-anchor="middle">2</text>
<text x="243.08" y="213.85" font-size="5.1" fill="#2e2e2e" text-anchor="middle">76</text>
<text x="243.08" y="220.15" font-size="5.1" fill="#2e2e2e" text-anchor="middle">77</text>
<line x1="274.35" y1="224.40" x2="274.35" y2="227.80" stroke="#2c2c2c" stroke-width="1.2"/>
<text x="274.35" y="235.75" font-size="5.1" fill="#444" text-anchor="middle">4</text>
<text x="274.35" y="213.85" font-size="5.1" fill="#2e2e2e" text-anchor="middle">31</text>
<text x="274.35" y="220.15" font-size="5.1" fill="#2e2e2e" text-anchor="middle">37</text>
<line x1="305.62" y1="224.40" x2="305.62" y2="227.80" stroke="#2c2c2c" stroke-width="1.2"/>
<text x="305.62" y="235.75" font-size="5.1" fill="#444" text-anchor="middle">6</text>
<text x="305.62" y="213.85" font-size="5.1" fill="#2e2e2e" text-anchor="middle">9</text>
<text x="305.62" y="220.15" font-size="5.1" fill="#2e2e2e" text-anchor="middle">9</text>
<line x1="336.90" y1="224.40" x2="336.90" y2="227.80" stroke="#2c2c2c" stroke-width="1.2"/>
<text x="336.90" y="235.75" font-size="5.1" fill="#444" text-anchor="middle">8</text>
<text x="336.90" y="213.85" font-size="5.1" fill="#2e2e2e" text-anchor="middle">1</text>
<text x="336.90" y="220.15" font-size="5.1" fill="#2e2e2e" text-anchor="middle">1</text>
<text x="274.20" y="245.80" font-size="8.3" fill="#333" text-anchor="middle" textLength="69.0" lengthAdjust="spacingAndGlyphs">Overall survival (years)</text>
<text transform="translate(189.90,237.70) rotate(-90)" font-size="5.2" fill="#333" textLength="16.3" lengthAdjust="spacingAndGlyphs">miR155</text>
<text transform="translate(189.90,217.90) rotate(-90)" font-size="5.2" fill="#333" textLength="24.3" lengthAdjust="spacingAndGlyphs">expression</text>
<line x1="193.90" y1="212.50" x2="201.70" y2="212.50" stroke="#c25a6c" stroke-width="1.1"/>
<line x1="193.90" y1="218.50" x2="201.70" y2="218.50" stroke="#6a85ad" stroke-width="1.1"/>
<text x="347.40" y="15.90" font-size="11.3" fill="#111">C</text>
<line x1="374.80" y1="22.00" x2="374.80" y2="165.90" stroke="#2c2c2c" stroke-width="1.3"/>
<line x1="374.20" y1="165.30" x2="512.60" y2="165.30" stroke="#2c2c2c" stroke-width="1.3"/>
<line x1="371.60" y1="28.50" x2="374.80" y2="28.50" stroke="#2c2c2c" stroke-width="1.0"/>
<text x="368.90" y="30.70" font-size="5.3" fill="#333" text-anchor="end" textLength="9.6" lengthAdjust="spacingAndGlyphs">1.00</text>
<line x1="371.60" y1="61.08" x2="374.80" y2="61.08" stroke="#2c2c2c" stroke-width="1.0"/>
<text x="368.90" y="63.28" font-size="5.3" fill="#333" text-anchor="end" textLength="9.6" lengthAdjust="spacingAndGlyphs">0.75</text>
<line x1="371.60" y1="93.65" x2="374.80" y2="93.65" stroke="#2c2c2c" stroke-width="1.0"/>
<text x="368.90" y="95.85" font-size="5.3" fill="#333" text-anchor="end" textLength="9.6" lengthAdjust="spacingAndGlyphs">0.50</text>
<line x1="371.60" y1="126.23" x2="374.80" y2="126.23" stroke="#2c2c2c" stroke-width="1.0"/>
<text x="368.90" y="128.43" font-size="5.3" fill="#333" text-anchor="end" textLength="9.6" lengthAdjust="spacingAndGlyphs">0.25</text>
<line x1="371.60" y1="158.80" x2="374.80" y2="158.80" stroke="#2c2c2c" stroke-width="1.0"/>
<text x="368.90" y="161.00" font-size="5.3" fill="#333" text-anchor="end" textLength="9.6" lengthAdjust="spacingAndGlyphs">0.00</text>
<line x1="381.20" y1="165.30" x2="381.20" y2="168.60" stroke="#2c2c2c" stroke-width="1.2"/>
<text x="381.20" y="176.25" font-size="5.1" fill="#444" text-anchor="middle">0</text>
<line x1="406.22" y1="165.30" x2="406.22" y2="168.60" stroke="#2c2c2c" stroke-width="1.2"/>
<text x="406.22" y="176.25" font-size="5.1" fill="#444" text-anchor="middle">2</text>
<line x1="431.24" y1="165.30" x2="431.24" y2="168.60" stroke="#2c2c2c" stroke-width="1.2"/>
<text x="431.24" y="176.25" font-size="5.1" fill="#444" text-anchor="middle">4</text>
<line x1="456.26" y1="165.30" x2="456.26" y2="168.60" stroke="#2c2c2c" stroke-width="1.2"/>
<text x="456.26" y="176.25" font-size="5.1" fill="#444" text-anchor="middle">6</text>
<line x1="481.28" y1="165.30" x2="481.28" y2="168.60" stroke="#2c2c2c" stroke-width="1.2"/>
<text x="481.28" y="176.25" font-size="5.1" fill="#444" text-anchor="middle">8</text>
<line x1="506.30" y1="165.30" x2="506.30" y2="168.60" stroke="#2c2c2c" stroke-width="1.2"/>
<text x="506.30" y="176.25" font-size="5.1" fill="#444" text-anchor="middle">10</text>
<text transform="translate(352.20,93.25) rotate(-90)" font-size="7.6" fill="#333" text-anchor="middle" textLength="60.7" lengthAdjust="spacingAndGlyphs">Survival probability</text>
<text x="443.60" y="187.75" font-size="8.3" fill="#333" text-anchor="middle" textLength="69.0" lengthAdjust="spacingAndGlyphs">Overall survival (years)</text>
<text x="508.80" y="35.20" font-size="4.1" fill="#555" text-anchor="end">p &lt; 0.0001</text>
<text x="377.40" y="146.40" font-size="4.1" fill="#555" textLength="34.6" lengthAdjust="spacingAndGlyphs">miR155 expression</text>
<line x1="377.70" y1="152.50" x2="382.20" y2="152.50" stroke="#bb5164" stroke-width="1.1"/>
<line x1="380.00" y1="150.80" x2="380.00" y2="154.00" stroke="#a9283f" stroke-width="0.6"/>
<text x="384.40" y="153.60" font-size="4.3" fill="#555" textLength="9.4" lengthAdjust="spacingAndGlyphs">High</text>
<line x1="377.70" y1="160.50" x2="382.20" y2="160.50" stroke="#6780a6" stroke-width="1.1"/>
<line x1="380.00" y1="158.70" x2="380.00" y2="161.90" stroke="#37537f" stroke-width="0.6"/>
<text x="384.50" y="161.40" font-size="4.3" fill="#555" textLength="8.2" lengthAdjust="spacingAndGlyphs">Low</text>
<polyline points="380.70,29.00 383.20,29.00 383.20,30.05 385.70,30.05 385.70,31.10 387.50,31.10 387.50,32.00 389.30,32.00 389.30,32.90 391.10,32.90 391.10,34.10 392.90,34.10 392.90,35.30 394.70,35.30 394.70,36.20 396.50,36.20 396.50,37.10 398.30,37.10 398.30,38.30 400.10,38.30 400.10,39.50 401.90,39.50 401.90,40.40 403.70,40.40 403.70,41.30 405.50,41.30 405.50,42.50 407.30,42.50 407.30,43.70 408.85,43.70 408.85,44.50 410.40,44.50 410.40,45.30 412.20,45.30 412.20,45.37 414.00,45.37 414.00,45.43 415.80,45.43 415.80,45.50 417.50,45.50 429.60,45.50 431.50,45.50 431.50,47.50 444.30,47.50 445.20,47.50 445.20,49.50 446.10,49.50 446.10,51.50 457.50,51.50 457.50,58.50 464.50,58.50 464.50,71.50 479.40,71.50" fill="none" stroke="#bb5164" stroke-width="1.0" stroke-linejoin="miter"/>
<polyline points="380.70,29.00 383.20,29.00 383.20,30.05 385.70,30.05 385.70,31.10 387.50,31.10 387.50,32.00 389.30,32.00 389.30,32.90 391.10,32.90 391.10,34.10 392.90,34.10 392.90,35.30 394.70,35.30 394.70,36.20 396.50,36.20 396.50,37.10 398.30,37.10 398.30,38.30 400.10,38.30 400.10,39.50 401.90,39.50 401.90,40.40 403.70,40.40 403.70,41.30 405.50,41.30 405.50,42.50 407.30,42.50 407.30,43.70 408.85,43.70 408.85,44.50 410.40,44.50 410.40,45.30 412.20,45.30 412.20,45.37 414.00,45.37 414.00,45.43 415.80,45.43 415.80,45.50" fill="none" stroke="#a9283f" stroke-width="1.0" stroke-linejoin="miter" opacity="0.8"/>
<polyline points="429.60,45.50 431.50,45.50 431.50,47.50" fill="none" stroke="#a9283f" stroke-width="1.0" stroke-linejoin="miter" opacity="0.8"/>
<polyline points="444.30,47.50 445.20,47.50 445.20,49.50 446.10,49.50 446.10,51.50" fill="none" stroke="#a9283f" stroke-width="1.0" stroke-linejoin="miter" opacity="0.8"/>
<line x1="420.50" y1="43.20" x2="420.50" y2="47.80" stroke="#a9283f" stroke-width="0.75" opacity="0.5"/>
<line x1="422.50" y1="43.20" x2="422.50" y2="47.80" stroke="#a9283f" stroke-width="0.75" opacity="0.5"/>
<line x1="425.50" y1="43.20" x2="425.50" y2="47.80" stroke="#a9283f" stroke-width="0.75" opacity="0.5"/>
<line x1="428.50" y1="43.20" x2="428.50" y2="47.80" stroke="#a9283f" stroke-width="0.75" opacity="0.5"/>
<line x1="435.50" y1="45.20" x2="435.50" y2="49.80" stroke="#a9283f" stroke-width="0.75" opacity="0.5"/>
<line x1="437.50" y1="45.20" x2="437.50" y2="49.80" stroke="#a9283f" stroke-width="0.75" opacity="0.5"/>
<line x1="440.50" y1="45.20" x2="440.50" y2="49.80" stroke="#a9283f" stroke-width="0.75" opacity="0.5"/>
<line x1="442.50" y1="45.20" x2="442.50" y2="49.80" stroke="#a9283f" stroke-width="0.75" opacity="0.5"/>
<line x1="447.50" y1="49.20" x2="447.50" y2="53.80" stroke="#a9283f" stroke-width="0.75" opacity="0.5"/>
<line x1="449.50" y1="49.20" x2="449.50" y2="53.80" stroke="#a9283f" stroke-width="0.75" opacity="0.5"/>
<line x1="454.50" y1="49.20" x2="454.50" y2="53.80" stroke="#a9283f" stroke-width="0.75" opacity="0.5"/>
<line x1="459.50" y1="56.20" x2="459.50" y2="60.80" stroke="#a9283f" stroke-width="0.75" opacity="0.5"/>
<line x1="461.50" y1="56.20" x2="461.50" y2="60.80" stroke="#a9283f" stroke-width="0.75" opacity="0.5"/>
<line x1="463.50" y1="56.20" x2="463.50" y2="60.80" stroke="#a9283f" stroke-width="0.75" opacity="0.5"/>
<line x1="467.50" y1="69.20" x2="467.50" y2="73.80" stroke="#a9283f" stroke-width="0.75" opacity="0.5"/>
<line x1="472.50" y1="69.20" x2="472.50" y2="73.80" stroke="#a9283f" stroke-width="0.75" opacity="0.5"/>
<line x1="479.40" y1="69.20" x2="479.40" y2="73.80" stroke="#a9283f" stroke-width="0.75" opacity="0.5"/>
<line x1="386.50" y1="29.20" x2="386.50" y2="33.80" stroke="#a9283f" stroke-width="0.75" opacity="0.65"/>
<line x1="389.10" y1="30.50" x2="389.10" y2="35.10" stroke="#a9283f" stroke-width="0.75" opacity="0.65"/>
<line x1="391.70" y1="32.20" x2="391.70" y2="36.80" stroke="#a9283f" stroke-width="0.75" opacity="0.65"/>
<line x1="394.30" y1="33.70" x2="394.30" y2="38.30" stroke="#a9283f" stroke-width="0.75" opacity="0.65"/>
<line x1="396.90" y1="35.07" x2="396.90" y2="39.67" stroke="#a9283f" stroke-width="0.75" opacity="0.65"/>
<line x1="399.50" y1="36.80" x2="399.50" y2="41.40" stroke="#a9283f" stroke-width="0.75" opacity="0.65"/>
<line x1="402.10" y1="38.20" x2="402.10" y2="42.80" stroke="#a9283f" stroke-width="0.75" opacity="0.65"/>
<line x1="404.70" y1="39.67" x2="404.70" y2="44.27" stroke="#a9283f" stroke-width="0.75" opacity="0.65"/>
<line x1="407.30" y1="41.40" x2="407.30" y2="46.00" stroke="#a9283f" stroke-width="0.75" opacity="0.65"/>
<line x1="409.90" y1="42.74" x2="409.90" y2="47.34" stroke="#a9283f" stroke-width="0.75" opacity="0.65"/>
<line x1="412.50" y1="43.08" x2="412.50" y2="47.68" stroke="#a9283f" stroke-width="0.75" opacity="0.65"/>
<line x1="415.10" y1="43.17" x2="415.10" y2="47.77" stroke="#a9283f" stroke-width="0.75" opacity="0.65"/>
<polyline points="380.70,29.00 382.00,29.00 382.00,30.95 383.30,30.95 383.30,32.90 385.10,32.90 385.10,34.10 386.90,34.10 386.90,35.30 387.80,35.30 387.80,36.80 388.70,36.80 388.70,38.30 389.60,38.30 389.60,40.70 390.50,40.70 390.50,43.10 391.10,43.10 391.10,45.10 391.70,45.10 391.70,47.10 392.30,47.10 392.30,49.10 393.50,49.10 393.50,51.20 394.70,51.20 394.70,53.30 395.90,53.30 395.90,55.10 397.10,55.10 397.10,56.90 399.20,56.90 399.20,58.10 401.30,58.10 401.30,59.30 403.10,59.30 403.10,60.55 404.90,60.55 404.90,61.80 407.30,61.80 407.30,62.70 409.70,62.70 409.70,63.60 411.55,63.60 411.55,64.45 413.40,64.45 413.40,65.30 414.60,65.30 414.60,66.80 415.80,66.80 415.80,68.30 417.80,68.30 417.80,68.93 419.80,68.93 419.80,69.57 421.80,69.57 421.80,70.20 423.20,70.20 423.20,72.50 431.50,72.50 433.30,72.50 433.30,74.05 435.10,74.05 435.10,75.60 437.00,75.60 437.00,78.50 453.00,78.50 453.40,78.50 453.40,80.50 453.80,80.50 453.80,82.50 466.50,82.50 466.50,89.50 471.50,89.50 471.50,97.50 510.40,97.50" fill="none" stroke="#6780a6" stroke-width="1.0" stroke-linejoin="miter"/>
<polyline points="380.70,29.00 382.00,29.00 382.00,30.95 383.30,30.95 383.30,32.90 385.10,32.90 385.10,34.10 386.90,34.10 386.90,35.30 387.80,35.30 387.80,36.80 388.70,36.80 388.70,38.30 389.60,38.30 389.60,40.70 390.50,40.70 390.50,43.10 391.10,43.10 391.10,45.10 391.70,45.10 391.70,47.10 392.30,47.10 392.30,49.10 393.50,49.10 393.50,51.20 394.70,51.20 394.70,53.30 395.90,53.30 395.90,55.10 397.10,55.10 397.10,56.90 399.20,56.90 399.20,58.10 401.30,58.10 401.30,59.30 403.10,59.30 403.10,60.55 404.90,60.55 404.90,61.80 407.30,61.80 407.30,62.70 409.70,62.70 409.70,63.60 411.55,63.60 411.55,64.45 413.40,64.45 413.40,65.30 414.60,65.30 414.60,66.80 415.80,66.80 415.80,68.30 417.80,68.30 417.80,68.93 419.80,68.93 419.80,69.57 421.80,69.57 421.80,70.20 423.20,70.20 423.20,72.50" fill="none" stroke="#37537f" stroke-width="1.0" stroke-linejoin="miter" opacity="0.8"/>
<polyline points="431.50,72.50 433.30,72.50 433.30,74.05 435.10,74.05 435.10,75.60 437.00,75.60 437.00,78.50" fill="none" stroke="#37537f" stroke-width="1.0" stroke-linejoin="miter" opacity="0.8"/>
<polyline points="453.00,78.50 453.40,78.50 453.40,80.50 453.80,80.50 453.80,82.50" fill="none" stroke="#37537f" stroke-width="1.0" stroke-linejoin="miter" opacity="0.8"/>
<line x1="425.50" y1="70.20" x2="425.50" y2="74.80" stroke="#37537f" stroke-width="0.75" opacity="0.5"/>
<line x1="428.50" y1="70.20" x2="428.50" y2="74.80" stroke="#37537f" stroke-width="0.75" opacity="0.5"/>
<line x1="438.50" y1="76.20" x2="438.50" y2="80.80" stroke="#37537f" stroke-width="0.75" opacity="0.5"/>
<line x1="440.50" y1="76.20" x2="440.50" y2="80.80" stroke="#37537f" stroke-width="0.75" opacity="0.5"/>
<line x1="442.50" y1="76.20" x2="442.50" y2="80.80" stroke="#37537f" stroke-width="0.75" opacity="0.5"/>
<line x1="444.50" y1="76.20" x2="444.50" y2="80.80" stroke="#37537f" stroke-width="0.75" opacity="0.5"/>
<line x1="449.50" y1="76.20" x2="449.50" y2="80.80" stroke="#37537f" stroke-width="0.75" opacity="0.5"/>
<line x1="458.50" y1="80.20" x2="458.50" y2="84.80" stroke="#37537f" stroke-width="0.75" opacity="0.5"/>
<line x1="461.50" y1="80.20" x2="461.50" y2="84.80" stroke="#37537f" stroke-width="0.75" opacity="0.5"/>
<line x1="463.50" y1="80.20" x2="463.50" y2="84.80" stroke="#37537f" stroke-width="0.75" opacity="0.5"/>
<line x1="475.50" y1="95.20" x2="475.50" y2="99.80" stroke="#37537f" stroke-width="0.75" opacity="0.5"/>
<line x1="484.50" y1="95.20" x2="484.50" y2="99.80" stroke="#37537f" stroke-width="0.75" opacity="0.5"/>
<line x1="487.50" y1="95.20" x2="487.50" y2="99.80" stroke="#37537f" stroke-width="0.75" opacity="0.5"/>
<line x1="491.50" y1="95.20" x2="491.50" y2="99.80" stroke="#37537f" stroke-width="0.75" opacity="0.5"/>
<line x1="510.40" y1="95.20" x2="510.40" y2="99.80" stroke="#37537f" stroke-width="0.75" opacity="0.5"/>
<line x1="398.50" y1="55.40" x2="398.50" y2="60.00" stroke="#37537f" stroke-width="0.75" opacity="0.65"/>
<line x1="401.10" y1="56.89" x2="401.10" y2="61.49" stroke="#37537f" stroke-width="0.75" opacity="0.65"/>
<line x1="403.70" y1="58.67" x2="403.70" y2="63.27" stroke="#37537f" stroke-width="0.75" opacity="0.65"/>
<line x1="406.30" y1="60.03" x2="406.30" y2="64.63" stroke="#37537f" stroke-width="0.75" opacity="0.65"/>
<line x1="408.90" y1="61.00" x2="408.90" y2="65.60" stroke="#37537f" stroke-width="0.75" opacity="0.65"/>
<line x1="411.50" y1="62.13" x2="411.50" y2="66.73" stroke="#37537f" stroke-width="0.75" opacity="0.65"/>
<line x1="414.10" y1="63.87" x2="414.10" y2="68.47" stroke="#37537f" stroke-width="0.75" opacity="0.65"/>
<line x1="416.70" y1="66.28" x2="416.70" y2="70.88" stroke="#37537f" stroke-width="0.75" opacity="0.65"/>
<line x1="419.30" y1="67.11" x2="419.30" y2="71.71" stroke="#37537f" stroke-width="0.75" opacity="0.65"/>
<text x="373.80" y="202.55" font-size="5.1" fill="#2e2e2e" textLength="33.8" lengthAdjust="spacingAndGlyphs">Number at risk</text>
<line x1="374.60" y1="206.70" x2="374.60" y2="225.00" stroke="#2c2c2c" stroke-width="1.3"/>
<line x1="374.00" y1="224.40" x2="512.60" y2="224.40" stroke="#2c2c2c" stroke-width="1.3"/>
<line x1="381.20" y1="224.40" x2="381.20" y2="227.80" stroke="#2c2c2c" stroke-width="1.2"/>
<text x="381.20" y="235.75" font-size="5.1" fill="#444" text-anchor="middle">0</text>
<text x="381.20" y="213.85" font-size="5.1" fill="#2e2e2e" text-anchor="middle">151</text>
<text x="381.20" y="220.15" font-size="5.1" fill="#2e2e2e" text-anchor="middle">151</text>
<line x1="406.22" y1="224.40" x2="406.22" y2="227.80" stroke="#2c2c2c" stroke-width="1.2"/>
<text x="406.22" y="235.75" font-size="5.1" fill="#444" text-anchor="middle">2</text>
<text x="406.22" y="213.85" font-size="5.1" fill="#2e2e2e" text-anchor="middle">107</text>
<text x="406.22" y="220.15" font-size="5.1" fill="#2e2e2e" text-anchor="middle">90</text>
<line x1="431.24" y1="224.40" x2="431.24" y2="227.80" stroke="#2c2c2c" stroke-width="1.2"/>
<text x="431.24" y="235.75" font-size="5.1" fill="#444" text-anchor="middle">4</text>
<text x="431.24" y="213.85" font-size="5.1" fill="#2e2e2e" text-anchor="middle">55</text>
<text x="431.24" y="220.15" font-size="5.1" fill="#2e2e2e" text-anchor="middle">46</text>
<line x1="456.26" y1="224.40" x2="456.26" y2="227.80" stroke="#2c2c2c" stroke-width="1.2"/>
<text x="456.26" y="235.75" font-size="5.1" fill="#444" text-anchor="middle">6</text>
<text x="456.26" y="213.85" font-size="5.1" fill="#2e2e2e" text-anchor="middle">14</text>
<text x="456.26" y="220.15" font-size="5.1" fill="#2e2e2e" text-anchor="middle">19</text>
<line x1="481.28" y1="224.40" x2="481.28" y2="227.80" stroke="#2c2c2c" stroke-width="1.2"/>
<text x="481.28" y="235.75" font-size="5.1" fill="#444" text-anchor="middle">8</text>
<text x="481.28" y="213.85" font-size="5.1" fill="#777" text-anchor="middle">0</text>
<text x="481.28" y="220.15" font-size="5.1" fill="#2e2e2e" text-anchor="middle">5</text>
<line x1="506.30" y1="224.40" x2="506.30" y2="227.80" stroke="#2c2c2c" stroke-width="1.2"/>
<text x="506.30" y="235.75" font-size="5.1" fill="#444" text-anchor="middle">10</text>
<text x="506.30" y="213.85" font-size="5.1" fill="#777" text-anchor="middle">0</text>
<text x="506.30" y="220.15" font-size="5.1" fill="#2e2e2e" text-anchor="middle">1</text>
<text x="443.60" y="245.80" font-size="8.3" fill="#333" text-anchor="middle" textLength="69.0" lengthAdjust="spacingAndGlyphs">Overall survival (years)</text>
<text transform="translate(359.30,237.70) rotate(-90)" font-size="5.2" fill="#333" textLength="16.3" lengthAdjust="spacingAndGlyphs">miR155</text>
<text transform="translate(359.30,217.90) rotate(-90)" font-size="5.2" fill="#333" textLength="24.3" lengthAdjust="spacingAndGlyphs">expression</text>
<line x1="363.30" y1="212.50" x2="371.10" y2="212.50" stroke="#c25a6c" stroke-width="1.1"/>
<line x1="363.30" y1="218.50" x2="371.10" y2="218.50" stroke="#6a85ad" stroke-width="1.1"/>
<text x="8.40" y="260.50" font-size="11.3" fill="#111">D</text>
<line x1="35.80" y1="266.60" x2="35.80" y2="410.50" stroke="#2c2c2c" stroke-width="1.3"/>
<line x1="35.20" y1="409.90" x2="173.60" y2="409.90" stroke="#2c2c2c" stroke-width="1.3"/>
<line x1="32.60" y1="273.10" x2="35.80" y2="273.10" stroke="#2c2c2c" stroke-width="1.0"/>
<text x="29.90" y="275.30" font-size="5.3" fill="#333" text-anchor="end" textLength="9.6" lengthAdjust="spacingAndGlyphs">1.00</text>
<line x1="32.60" y1="305.68" x2="35.80" y2="305.68" stroke="#2c2c2c" stroke-width="1.0"/>
<text x="29.90" y="307.88" font-size="5.3" fill="#333" text-anchor="end" textLength="9.6" lengthAdjust="spacingAndGlyphs">0.75</text>
<line x1="32.60" y1="338.25" x2="35.80" y2="338.25" stroke="#2c2c2c" stroke-width="1.0"/>
<text x="29.90" y="340.45" font-size="5.3" fill="#333" text-anchor="end" textLength="9.6" lengthAdjust="spacingAndGlyphs">0.50</text>
<line x1="32.60" y1="370.82" x2="35.80" y2="370.82" stroke="#2c2c2c" stroke-width="1.0"/>
<text x="29.90" y="373.02" font-size="5.3" fill="#333" text-anchor="end" textLength="9.6" lengthAdjust="spacingAndGlyphs">0.25</text>
<line x1="32.60" y1="403.40" x2="35.80" y2="403.40" stroke="#2c2c2c" stroke-width="1.0"/>
<text x="29.90" y="405.60" font-size="5.3" fill="#333" text-anchor="end" textLength="9.6" lengthAdjust="spacingAndGlyphs">0.00</text>
<line x1="42.20" y1="409.90" x2="42.20" y2="413.20" stroke="#2c2c2c" stroke-width="1.2"/>
<text x="42.20" y="420.85" font-size="5.1" fill="#444" text-anchor="middle">0</text>
<line x1="67.22" y1="409.90" x2="67.22" y2="413.20" stroke="#2c2c2c" stroke-width="1.2"/>
<text x="67.22" y="420.85" font-size="5.1" fill="#444" text-anchor="middle">2</text>
<line x1="92.24" y1="409.90" x2="92.24" y2="413.20" stroke="#2c2c2c" stroke-width="1.2"/>
<text x="92.24" y="420.85" font-size="5.1" fill="#444" text-anchor="middle">4</text>
<line x1="117.26" y1="409.90" x2="117.26" y2="413.20" stroke="#2c2c2c" stroke-width="1.2"/>
<text x="117.26" y="420.85" font-size="5.1" fill="#444" text-anchor="middle">6</text>
<line x1="142.28" y1="409.90" x2="142.28" y2="413.20" stroke="#2c2c2c" stroke-width="1.2"/>
<text x="142.28" y="420.85" font-size="5.1" fill="#444" text-anchor="middle">8</text>
<line x1="167.30" y1="409.90" x2="167.30" y2="413.20" stroke="#2c2c2c" stroke-width="1.2"/>
<text x="167.30" y="420.85" font-size="5.1" fill="#444" text-anchor="middle">10</text>
<text transform="translate(13.70,337.85) rotate(-90)" font-size="7.6" fill="#333" text-anchor="middle" textLength="60.7" lengthAdjust="spacingAndGlyphs">Survival probability</text>
<text x="104.60" y="432.35" font-size="8.3" fill="#333" text-anchor="middle" textLength="101.5" lengthAdjust="spacingAndGlyphs">Progression–free survival (years)</text>
<text x="166.90" y="277.30" font-size="4.1" fill="#555" text-anchor="end">p = 0.45</text>
<text x="38.40" y="391.00" font-size="4.1" fill="#555" textLength="34.6" lengthAdjust="spacingAndGlyphs">miR155 expression</text>
<line x1="38.70" y1="397.10" x2="43.20" y2="397.10" stroke="#bb5164" stroke-width="1.1"/>
<line x1="41.00" y1="395.40" x2="41.00" y2="398.60" stroke="#a9283f" stroke-width="0.6"/>
<text x="45.40" y="398.20" font-size="4.3" fill="#555" textLength="9.4" lengthAdjust="spacingAndGlyphs">High</text>
<line x1="38.70" y1="405.10" x2="43.20" y2="405.10" stroke="#6780a6" stroke-width="1.1"/>
<line x1="41.00" y1="403.30" x2="41.00" y2="406.50" stroke="#37537f" stroke-width="0.6"/>
<text x="45.50" y="406.00" font-size="4.3" fill="#555" textLength="8.2" lengthAdjust="spacingAndGlyphs">Low</text>
<polyline points="41.90,273.60 42.68,273.60 42.68,275.77 43.45,275.77 43.45,277.95 44.23,277.95 44.23,280.12 45.00,280.12 45.00,282.30 46.00,282.30 46.00,284.30 47.00,284.30 47.00,286.30 48.00,286.30 48.00,287.80 49.00,287.80 49.00,289.30 49.67,289.30 49.67,291.30 50.33,291.30 50.33,293.30 51.00,293.30 51.00,295.30 51.62,295.30 51.62,297.05 52.25,297.05 52.25,298.80 52.88,298.80 52.88,300.55 53.50,300.55 53.50,302.30 54.33,302.30 54.33,304.13 55.17,304.13 55.17,305.97 56.00,305.97 56.00,307.80 57.50,307.80 57.50,309.80 59.00,309.80 59.00,311.80 60.90,311.80 60.90,314.40 63.20,314.40 63.20,315.10 65.10,315.10 65.10,315.90 67.00,315.90 67.00,316.70 68.95,316.70 68.95,317.85 70.90,317.85 70.90,319.00 72.80,319.00 72.80,320.15 74.70,320.15 74.70,321.30 76.65,321.30 76.65,322.05 78.60,322.05 78.60,322.80 80.50,322.80 80.50,323.60 82.40,323.60 82.40,324.40 84.70,324.40 84.70,325.90 86.30,325.90 86.30,326.50 90.10,326.50 91.83,326.50 91.83,326.70 93.57,326.70 93.57,326.90 95.30,326.90 95.30,327.10 97.30,327.10 97.30,328.10 99.30,328.10 99.30,329.10 101.30,329.10 101.30,329.70 103.30,329.70 103.30,330.30 104.90,330.30 104.90,330.40 106.50,330.40 106.50,330.50 113.50,330.50 113.50,334.50 128.50,334.50 128.50,341.50 148.60,341.50" fill="none" stroke="#bb5164" stroke-width="1.0" stroke-linejoin="miter"/>
<polyline points="41.90,273.60 42.68,273.60 42.68,275.77 43.45,275.77 43.45,277.95 44.23,277.95 44.23,280.12 45.00,280.12 45.00,282.30 46.00,282.30 46.00,284.30 47.00,284.30 47.00,286.30 48.00,286.30 48.00,287.80 49.00,287.80 49.00,289.30 49.67,289.30 49.67,291.30 50.33,291.30 50.33,293.30 51.00,293.30 51.00,295.30 51.62,295.30 51.62,297.05 52.25,297.05 52.25,298.80 52.88,298.80 52.88,300.55 53.50,300.55 53.50,302.30 54.33,302.30 54.33,304.13 55.17,304.13 55.17,305.97 56.00,305.97 56.00,307.80 57.50,307.80 57.50,309.80 59.00,309.80 59.00,311.80 60.90,311.80 60.90,314.40 63.20,314.40 63.20,315.10 65.10,315.10 65.10,315.90 67.00,315.90 67.00,316.70 68.95,316.70 68.95,317.85 70.90,317.85 70.90,319.00 72.80,319.00 72.80,320.15 74.70,320.15 74.70,321.30 76.65,321.30 76.65,322.05 78.60,322.05 78.60,322.80 80.50,322.80 80.50,323.60 82.40,323.60 82.40,324.40 84.70,324.40 84.70,325.90 86.30,325.90 86.30,326.50" fill="none" stroke="#a9283f" stroke-width="1.0" stroke-linejoin="miter" opacity="0.8"/>
<polyline points="90.10,326.50 91.83,326.50 91.83,326.70 93.57,326.70 93.57,326.90 95.30,326.90 95.30,327.10 97.30,327.10 97.30,328.10 99.30,328.10 99.30,329.10 101.30,329.10 101.30,329.70 103.30,329.70 103.30,330.30 104.90,330.30 104.90,330.40 106.50,330.40 106.50,330.50" fill="none" stroke="#a9283f" stroke-width="1.0" stroke-linejoin="miter" opacity="0.8"/>
<line x1="116.50" y1="332.20" x2="116.50" y2="336.80" stroke="#a9283f" stroke-width="0.75" opacity="0.5"/>
<line x1="118.50" y1="332.20" x2="118.50" y2="336.80" stroke="#a9283f" stroke-width="0.75" opacity="0.5"/>
<line x1="121.50" y1="332.20" x2="121.50" y2="336.80" stroke="#a9283f" stroke-width="0.75" opacity="0.5"/>
<line x1="124.50" y1="332.20" x2="124.50" y2="336.80" stroke="#a9283f" stroke-width="0.75" opacity="0.5"/>
<line x1="131.50" y1="339.20" x2="131.50" y2="343.80" stroke="#a9283f" stroke-width="0.75" opacity="0.5"/>
<line x1="134.50" y1="339.20" x2="134.50" y2="343.80" stroke="#a9283f" stroke-width="0.75" opacity="0.5"/>
<line x1="136.50" y1="339.20" x2="136.50" y2="343.80" stroke="#a9283f" stroke-width="0.75" opacity="0.5"/>
<line x1="140.50" y1="339.20" x2="140.50" y2="343.80" stroke="#a9283f" stroke-width="0.75" opacity="0.5"/>
<line x1="148.60" y1="339.20" x2="148.60" y2="343.80" stroke="#a9283f" stroke-width="0.75" opacity="0.5"/>
<line x1="60.50" y1="311.55" x2="60.50" y2="316.15" stroke="#a9283f" stroke-width="0.75" opacity="0.65"/>
<line x1="62.50" y1="312.59" x2="62.50" y2="317.19" stroke="#a9283f" stroke-width="0.75" opacity="0.65"/>
<line x1="64.50" y1="313.35" x2="64.50" y2="317.95" stroke="#a9283f" stroke-width="0.75" opacity="0.65"/>
<line x1="66.50" y1="314.19" x2="66.50" y2="318.79" stroke="#a9283f" stroke-width="0.75" opacity="0.65"/>
<line x1="68.50" y1="315.28" x2="68.50" y2="319.88" stroke="#a9283f" stroke-width="0.75" opacity="0.65"/>
<line x1="70.50" y1="316.46" x2="70.50" y2="321.06" stroke="#a9283f" stroke-width="0.75" opacity="0.65"/>
<line x1="72.50" y1="317.67" x2="72.50" y2="322.27" stroke="#a9283f" stroke-width="0.75" opacity="0.65"/>
<line x1="74.50" y1="318.88" x2="74.50" y2="323.48" stroke="#a9283f" stroke-width="0.75" opacity="0.65"/>
<line x1="76.50" y1="319.69" x2="76.50" y2="324.29" stroke="#a9283f" stroke-width="0.75" opacity="0.65"/>
<line x1="78.50" y1="320.46" x2="78.50" y2="325.06" stroke="#a9283f" stroke-width="0.75" opacity="0.65"/>
<line x1="80.50" y1="321.30" x2="80.50" y2="325.90" stroke="#a9283f" stroke-width="0.75" opacity="0.65"/>
<line x1="82.50" y1="322.17" x2="82.50" y2="326.77" stroke="#a9283f" stroke-width="0.75" opacity="0.65"/>
<line x1="84.50" y1="323.47" x2="84.50" y2="328.07" stroke="#a9283f" stroke-width="0.75" opacity="0.65"/>
<line x1="86.50" y1="324.20" x2="86.50" y2="328.80" stroke="#a9283f" stroke-width="0.75" opacity="0.65"/>
<line x1="88.50" y1="324.20" x2="88.50" y2="328.80" stroke="#a9283f" stroke-width="0.75" opacity="0.65"/>
<line x1="90.50" y1="324.25" x2="90.50" y2="328.85" stroke="#a9283f" stroke-width="0.75" opacity="0.65"/>
<line x1="92.50" y1="324.48" x2="92.50" y2="329.08" stroke="#a9283f" stroke-width="0.75" opacity="0.65"/>
<line x1="94.50" y1="324.71" x2="94.50" y2="329.31" stroke="#a9283f" stroke-width="0.75" opacity="0.65"/>
<line x1="96.50" y1="325.40" x2="96.50" y2="330.00" stroke="#a9283f" stroke-width="0.75" opacity="0.65"/>
<line x1="98.50" y1="326.40" x2="98.50" y2="331.00" stroke="#a9283f" stroke-width="0.75" opacity="0.65"/>
<line x1="100.50" y1="327.16" x2="100.50" y2="331.76" stroke="#a9283f" stroke-width="0.75" opacity="0.65"/>
<line x1="102.50" y1="327.76" x2="102.50" y2="332.36" stroke="#a9283f" stroke-width="0.75" opacity="0.65"/>
<line x1="104.50" y1="328.07" x2="104.50" y2="332.68" stroke="#a9283f" stroke-width="0.75" opacity="0.65"/>
<line x1="106.50" y1="328.20" x2="106.50" y2="332.80" stroke="#a9283f" stroke-width="0.75" opacity="0.65"/>
<line x1="108.50" y1="328.20" x2="108.50" y2="332.80" stroke="#a9283f" stroke-width="0.75" opacity="0.65"/>
<line x1="110.50" y1="328.20" x2="110.50" y2="332.80" stroke="#a9283f" stroke-width="0.75" opacity="0.65"/>
<line x1="112.50" y1="328.20" x2="112.50" y2="332.80" stroke="#a9283f" stroke-width="0.75" opacity="0.65"/>
<polyline points="41.90,273.60 42.55,273.60 42.55,275.77 43.20,275.77 43.20,277.95 43.85,277.95 43.85,280.12 44.50,280.12 44.50,282.30 45.50,282.30 45.50,284.55 46.50,284.55 46.50,286.80 48.50,286.80 48.50,289.30 49.17,289.30 49.17,291.30 49.83,291.30 49.83,293.30 50.50,293.30 50.50,295.30 51.12,295.30 51.12,297.05 51.75,297.05 51.75,298.80 52.38,298.80 52.38,300.55 53.00,300.55 53.00,302.30 53.83,302.30 53.83,304.13 54.67,304.13 54.67,305.97 55.50,305.97 55.50,307.80 57.00,307.80 57.00,309.80 58.50,309.80 58.50,311.80 59.70,311.80 59.70,313.45 60.90,313.45 60.90,315.10 63.20,315.10 63.20,317.10 64.75,317.10 64.75,318.05 66.30,318.05 66.30,319.00 67.80,319.00 67.80,320.35 69.30,320.35 69.30,321.70 70.90,321.70 70.90,324.40 72.80,324.40 72.80,325.15 74.70,325.15 74.70,325.90 76.65,325.90 76.65,326.50 78.60,326.50 78.60,327.10 80.50,327.10 80.50,327.65 82.40,327.65 82.40,328.20 84.35,328.20 84.35,329.00 86.30,329.00 86.30,329.80 88.40,329.80 88.40,330.05 90.50,330.05 90.50,330.30 92.50,330.30 92.50,331.30 94.50,331.30 94.50,332.30 96.50,332.30 96.50,332.70 98.50,332.70 98.50,333.10 100.63,333.10 100.63,333.23 102.77,333.23 102.77,333.37 104.90,333.37 104.90,333.50 106.90,333.50 106.90,333.90 108.90,333.90 108.90,334.30 110.50,334.30 110.50,334.90 112.10,334.90 112.10,335.50 113.70,335.50 113.70,337.50 115.30,337.50 115.30,338.70 116.90,338.70 116.90,339.90 117.70,339.90 117.70,341.70 118.50,341.70 118.50,343.50 119.30,343.50 127.50,343.50 127.50,351.50 171.75,351.50" fill="none" stroke="#6780a6" stroke-width="1.0" stroke-linejoin="miter"/>
<polyline points="41.90,273.60 42.55,273.60 42.55,275.77 43.20,275.77 43.20,277.95 43.85,277.95 43.85,280.12 44.50,280.12 44.50,282.30 45.50,282.30 45.50,284.55 46.50,284.55 46.50,286.80 48.50,286.80 48.50,289.30 49.17,289.30 49.17,291.30 49.83,291.30 49.83,293.30 50.50,293.30 50.50,295.30 51.12,295.30 51.12,297.05 51.75,297.05 51.75,298.80 52.38,298.80 52.38,300.55 53.00,300.55 53.00,302.30 53.83,302.30 53.83,304.13 54.67,304.13 54.67,305.97 55.50,305.97 55.50,307.80 57.00,307.80 57.00,309.80 58.50,309.80 58.50,311.80 59.70,311.80 59.70,313.45 60.90,313.45 60.90,315.10 63.20,315.10 63.20,317.10 64.75,317.10 64.75,318.05 66.30,318.05 66.30,319.00 67.80,319.00 67.80,320.35 69.30,320.35 69.30,321.70 70.90,321.70 70.90,324.40 72.80,324.40 72.80,325.15 74.70,325.15 74.70,325.90 76.65,325.90 76.65,326.50 78.60,326.50 78.60,327.10 80.50,327.10 80.50,327.65 82.40,327.65 82.40,328.20 84.35,328.20 84.35,329.00 86.30,329.00 86.30,329.80 88.40,329.80 88.40,330.05 90.50,330.05 90.50,330.30 92.50,330.30 92.50,331.30 94.50,331.30 94.50,332.30 96.50,332.30 96.50,332.70 98.50,332.70 98.50,333.10 100.63,333.10 100.63,333.23 102.77,333.23 102.77,333.37 104.90,333.37 104.90,333.50 106.90,333.50 106.90,333.90 108.90,333.90 108.90,334.30 110.50,334.30 110.50,334.90 112.10,334.90 112.10,335.50 113.70,335.50 113.70,337.50 115.30,337.50 115.30,338.70 116.90,338.70 116.90,339.90 117.70,339.90 117.70,341.70 118.50,341.70 118.50,343.50" fill="none" stroke="#37537f" stroke-width="1.0" stroke-linejoin="miter" opacity="0.8"/>
<line x1="121.50" y1="341.20" x2="121.50" y2="345.80" stroke="#37537f" stroke-width="0.75" opacity="0.5"/>
<line x1="123.50" y1="341.20" x2="123.50" y2="345.80" stroke="#37537f" stroke-width="0.75" opacity="0.5"/>
<line x1="125.50" y1="341.20" x2="125.50" y2="345.80" stroke="#37537f" stroke-width="0.75" opacity="0.5"/>
<line x1="132.50" y1="349.20" x2="132.50" y2="353.80" stroke="#37537f" stroke-width="0.75" opacity="0.5"/>
<line x1="134.50" y1="349.20" x2="134.50" y2="353.80" stroke="#37537f" stroke-width="0.75" opacity="0.5"/>
<line x1="137.50" y1="349.20" x2="137.50" y2="353.80" stroke="#37537f" stroke-width="0.75" opacity="0.5"/>
<line x1="142.50" y1="349.20" x2="142.50" y2="353.80" stroke="#37537f" stroke-width="0.75" opacity="0.5"/>
<line x1="146.50" y1="349.20" x2="146.50" y2="353.80" stroke="#37537f" stroke-width="0.75" opacity="0.5"/>
<line x1="149.50" y1="349.20" x2="149.50" y2="353.80" stroke="#37537f" stroke-width="0.75" opacity="0.5"/>
<line x1="153.50" y1="349.20" x2="153.50" y2="353.80" stroke="#37537f" stroke-width="0.75" opacity="0.5"/>
<line x1="171.75" y1="349.20" x2="171.75" y2="353.80" stroke="#37537f" stroke-width="0.75" opacity="0.5"/>
<line x1="60.50" y1="312.25" x2="60.50" y2="316.85" stroke="#37537f" stroke-width="0.75" opacity="0.65"/>
<line x1="62.70" y1="314.37" x2="62.70" y2="318.97" stroke="#37537f" stroke-width="0.75" opacity="0.65"/>
<line x1="64.90" y1="315.84" x2="64.90" y2="320.44" stroke="#37537f" stroke-width="0.75" opacity="0.65"/>
<line x1="67.10" y1="317.42" x2="67.10" y2="322.02" stroke="#37537f" stroke-width="0.75" opacity="0.65"/>
<line x1="69.30" y1="319.40" x2="69.30" y2="324.00" stroke="#37537f" stroke-width="0.75" opacity="0.65"/>
<line x1="71.50" y1="322.34" x2="71.50" y2="326.94" stroke="#37537f" stroke-width="0.75" opacity="0.65"/>
<line x1="73.70" y1="323.21" x2="73.70" y2="327.81" stroke="#37537f" stroke-width="0.75" opacity="0.65"/>
<line x1="75.90" y1="323.97" x2="75.90" y2="328.57" stroke="#37537f" stroke-width="0.75" opacity="0.65"/>
<line x1="78.10" y1="324.65" x2="78.10" y2="329.25" stroke="#37537f" stroke-width="0.75" opacity="0.65"/>
<line x1="80.30" y1="325.29" x2="80.30" y2="329.89" stroke="#37537f" stroke-width="0.75" opacity="0.65"/>
<line x1="82.50" y1="325.94" x2="82.50" y2="330.54" stroke="#37537f" stroke-width="0.75" opacity="0.65"/>
<line x1="84.70" y1="326.84" x2="84.70" y2="331.44" stroke="#37537f" stroke-width="0.75" opacity="0.65"/>
<line x1="86.90" y1="327.57" x2="86.90" y2="332.17" stroke="#37537f" stroke-width="0.75" opacity="0.65"/>
<line x1="89.10" y1="327.83" x2="89.10" y2="332.43" stroke="#37537f" stroke-width="0.75" opacity="0.65"/>
<line x1="91.30" y1="328.40" x2="91.30" y2="333.00" stroke="#37537f" stroke-width="0.75" opacity="0.65"/>
<line x1="93.50" y1="329.50" x2="93.50" y2="334.10" stroke="#37537f" stroke-width="0.75" opacity="0.65"/>
<line x1="95.70" y1="330.24" x2="95.70" y2="334.84" stroke="#37537f" stroke-width="0.75" opacity="0.65"/>
<line x1="97.90" y1="330.68" x2="97.90" y2="335.28" stroke="#37537f" stroke-width="0.75" opacity="0.65"/>
<line x1="100.10" y1="330.90" x2="100.10" y2="335.50" stroke="#37537f" stroke-width="0.75" opacity="0.65"/>
<line x1="102.30" y1="331.04" x2="102.30" y2="335.64" stroke="#37537f" stroke-width="0.75" opacity="0.65"/>
<line x1="104.50" y1="331.18" x2="104.50" y2="335.78" stroke="#37537f" stroke-width="0.75" opacity="0.65"/>
<line x1="106.70" y1="331.56" x2="106.70" y2="336.16" stroke="#37537f" stroke-width="0.75" opacity="0.65"/>
<line x1="108.90" y1="332.00" x2="108.90" y2="336.60" stroke="#37537f" stroke-width="0.75" opacity="0.65"/>
<line x1="111.10" y1="332.83" x2="111.10" y2="337.43" stroke="#37537f" stroke-width="0.75" opacity="0.65"/>
<text x="34.80" y="446.35" font-size="5.1" fill="#2e2e2e" textLength="33.8" lengthAdjust="spacingAndGlyphs">Number at risk</text>
<line x1="35.60" y1="450.50" x2="35.60" y2="468.80" stroke="#2c2c2c" stroke-width="1.3"/>
<line x1="35.00" y1="468.20" x2="173.60" y2="468.20" stroke="#2c2c2c" stroke-width="1.3"/>
<line x1="42.20" y1="468.20" x2="42.20" y2="471.60" stroke="#2c2c2c" stroke-width="1.2"/>
<text x="42.20" y="479.55" font-size="5.1" fill="#444" text-anchor="middle">0</text>
<text x="42.20" y="457.65" font-size="5.1" fill="#2e2e2e" text-anchor="middle">350</text>
<text x="42.20" y="463.95" font-size="5.1" fill="#2e2e2e" text-anchor="middle">351</text>
<line x1="67.22" y1="468.20" x2="67.22" y2="471.60" stroke="#2c2c2c" stroke-width="1.2"/>
<text x="67.22" y="479.55" font-size="5.1" fill="#444" text-anchor="middle">2</text>
<text x="67.22" y="457.65" font-size="5.1" fill="#2e2e2e" text-anchor="middle">192</text>
<text x="67.22" y="463.95" font-size="5.1" fill="#2e2e2e" text-anchor="middle">187</text>
<line x1="92.24" y1="468.20" x2="92.24" y2="471.60" stroke="#2c2c2c" stroke-width="1.2"/>
<text x="92.24" y="479.55" font-size="5.1" fill="#444" text-anchor="middle">4</text>
<text x="92.24" y="457.65" font-size="5.1" fill="#2e2e2e" text-anchor="middle">84</text>
<text x="92.24" y="463.95" font-size="5.1" fill="#2e2e2e" text-anchor="middle">90</text>
<line x1="117.26" y1="468.20" x2="117.26" y2="471.60" stroke="#2c2c2c" stroke-width="1.2"/>
<text x="117.26" y="479.55" font-size="5.1" fill="#444" text-anchor="middle">6</text>
<text x="117.26" y="457.65" font-size="5.1" fill="#2e2e2e" text-anchor="middle">18</text>
<text x="117.26" y="463.95" font-size="5.1" fill="#2e2e2e" text-anchor="middle">29</text>
<line x1="142.28" y1="468.20" x2="142.28" y2="471.60" stroke="#2c2c2c" stroke-width="1.2"/>
<text x="142.28" y="479.55" font-size="5.1" fill="#444" text-anchor="middle">8</text>
<text x="142.28" y="457.65" font-size="5.1" fill="#2e2e2e" text-anchor="middle">3</text>
<text x="142.28" y="463.95" font-size="5.1" fill="#2e2e2e" text-anchor="middle">5</text>
<line x1="167.30" y1="468.20" x2="167.30" y2="471.60" stroke="#2c2c2c" stroke-width="1.2"/>
<text x="167.30" y="479.55" font-size="5.1" fill="#444" text-anchor="middle">10</text>
<text x="167.30" y="457.65" font-size="5.1" fill="#777" text-anchor="middle">0</text>
<text x="167.30" y="463.95" font-size="5.1" fill="#2e2e2e" text-anchor="middle">1</text>
<text x="104.60" y="489.60" font-size="8.3" fill="#333" text-anchor="middle" textLength="101.5" lengthAdjust="spacingAndGlyphs">Progression–free survival (years)</text>
<text transform="translate(20.30,481.50) rotate(-90)" font-size="5.2" fill="#333" textLength="16.3" lengthAdjust="spacingAndGlyphs">miR155</text>
<text transform="translate(20.30,461.70) rotate(-90)" font-size="5.2" fill="#333" textLength="24.3" lengthAdjust="spacingAndGlyphs">expression</text>
<line x1="24.30" y1="456.30" x2="32.10" y2="456.30" stroke="#c25a6c" stroke-width="1.1"/>
<line x1="24.30" y1="462.30" x2="32.10" y2="462.30" stroke="#6a85ad" stroke-width="1.1"/>
<text x="178.00" y="260.50" font-size="11.3" fill="#111">E</text>
<line x1="205.40" y1="266.60" x2="205.40" y2="410.50" stroke="#2c2c2c" stroke-width="1.3"/>
<line x1="204.80" y1="409.90" x2="343.20" y2="409.90" stroke="#2c2c2c" stroke-width="1.3"/>
<line x1="202.20" y1="273.10" x2="205.40" y2="273.10" stroke="#2c2c2c" stroke-width="1.0"/>
<text x="199.50" y="275.30" font-size="5.3" fill="#333" text-anchor="end" textLength="9.6" lengthAdjust="spacingAndGlyphs">1.00</text>
<line x1="202.20" y1="305.68" x2="205.40" y2="305.68" stroke="#2c2c2c" stroke-width="1.0"/>
<text x="199.50" y="307.88" font-size="5.3" fill="#333" text-anchor="end" textLength="9.6" lengthAdjust="spacingAndGlyphs">0.75</text>
<line x1="202.20" y1="338.25" x2="205.40" y2="338.25" stroke="#2c2c2c" stroke-width="1.0"/>
<text x="199.50" y="340.45" font-size="5.3" fill="#333" text-anchor="end" textLength="9.6" lengthAdjust="spacingAndGlyphs">0.50</text>
<line x1="202.20" y1="370.82" x2="205.40" y2="370.82" stroke="#2c2c2c" stroke-width="1.0"/>
<text x="199.50" y="373.02" font-size="5.3" fill="#333" text-anchor="end" textLength="9.6" lengthAdjust="spacingAndGlyphs">0.25</text>
<line x1="202.20" y1="403.40" x2="205.40" y2="403.40" stroke="#2c2c2c" stroke-width="1.0"/>
<text x="199.50" y="405.60" font-size="5.3" fill="#333" text-anchor="end" textLength="9.6" lengthAdjust="spacingAndGlyphs">0.00</text>
<line x1="211.80" y1="409.90" x2="211.80" y2="413.20" stroke="#2c2c2c" stroke-width="1.2"/>
<text x="211.80" y="420.85" font-size="5.1" fill="#444" text-anchor="middle">0</text>
<line x1="243.08" y1="409.90" x2="243.08" y2="413.20" stroke="#2c2c2c" stroke-width="1.2"/>
<text x="243.08" y="420.85" font-size="5.1" fill="#444" text-anchor="middle">2</text>
<line x1="274.35" y1="409.90" x2="274.35" y2="413.20" stroke="#2c2c2c" stroke-width="1.2"/>
<text x="274.35" y="420.85" font-size="5.1" fill="#444" text-anchor="middle">4</text>
<line x1="305.62" y1="409.90" x2="305.62" y2="413.20" stroke="#2c2c2c" stroke-width="1.2"/>
<text x="305.62" y="420.85" font-size="5.1" fill="#444" text-anchor="middle">6</text>
<line x1="336.90" y1="409.90" x2="336.90" y2="413.20" stroke="#2c2c2c" stroke-width="1.2"/>
<text x="336.90" y="420.85" font-size="5.1" fill="#444" text-anchor="middle">8</text>
<text transform="translate(182.80,337.85) rotate(-90)" font-size="7.6" fill="#333" text-anchor="middle" textLength="60.7" lengthAdjust="spacingAndGlyphs">Survival probability</text>
<text x="274.20" y="432.35" font-size="8.3" fill="#333" text-anchor="middle" textLength="101.5" lengthAdjust="spacingAndGlyphs">Progression–free survival (years)</text>
<text x="331.00" y="277.30" font-size="4.1" fill="#555" text-anchor="end">p = 0.098</text>
<text x="208.00" y="391.00" font-size="4.1" fill="#555" textLength="34.6" lengthAdjust="spacingAndGlyphs">miR155 expression</text>
<line x1="208.30" y1="397.10" x2="212.80" y2="397.10" stroke="#bb5164" stroke-width="1.1"/>
<line x1="210.60" y1="395.40" x2="210.60" y2="398.60" stroke="#a9283f" stroke-width="0.6"/>
<text x="215.00" y="398.20" font-size="4.3" fill="#555" textLength="9.4" lengthAdjust="spacingAndGlyphs">High</text>
<line x1="208.30" y1="405.10" x2="212.80" y2="405.10" stroke="#6780a6" stroke-width="1.1"/>
<line x1="210.60" y1="403.30" x2="210.60" y2="406.50" stroke="#37537f" stroke-width="0.6"/>
<text x="215.10" y="406.00" font-size="4.3" fill="#555" textLength="8.2" lengthAdjust="spacingAndGlyphs">Low</text>
<polyline points="211.30,273.80 212.23,273.80 212.23,276.10 213.17,276.10 213.17,278.40 214.10,278.40 214.10,280.70 215.30,280.70 215.30,283.10 216.50,283.10 216.50,285.50 218.00,285.50 218.00,286.70 219.50,286.70 219.50,287.90 220.10,287.90 220.10,290.00 220.70,290.00 220.70,292.10 221.50,292.10 221.50,294.10 222.30,294.10 222.30,296.10 223.10,296.10 223.10,298.10 223.70,298.10 223.70,299.90 224.30,299.90 224.30,301.70 224.90,301.70 224.90,303.50 225.50,303.50 225.50,305.30 226.30,305.30 226.30,307.13 227.10,307.13 227.10,308.97 227.90,308.97 227.90,310.80 229.10,310.80 229.10,312.80 230.30,312.80 230.30,314.80 231.50,314.80 231.50,316.80 233.30,316.80 233.30,319.20 235.10,319.20 235.10,321.60 236.95,321.60 236.95,323.40 238.80,323.40 238.80,325.20 240.80,325.20 240.80,326.60 242.80,326.60 242.80,328.00 245.10,328.00 245.10,329.75 247.40,329.75 247.40,331.50 249.33,331.50 249.33,332.07 251.27,332.07 251.27,332.63 253.20,332.63 253.20,333.20 255.10,333.20 255.10,334.37 257.00,334.37 257.00,335.53 258.90,335.53 258.90,336.70 260.65,336.70 260.65,337.25 262.40,337.25 262.40,337.80 263.85,337.80 263.85,339.65 265.30,339.65 265.30,341.50 278.00,341.50 279.10,341.50 279.10,343.50 285.50,343.50 285.50,346.50 320.50,346.50 320.50,357.50 343.00,357.50" fill="none" stroke="#bb5164" stroke-width="1.0" stroke-linejoin="miter"/>
<polyline points="211.30,273.80 212.23,273.80 212.23,276.10 213.17,276.10 213.17,278.40 214.10,278.40 214.10,280.70 215.30,280.70 215.30,283.10 216.50,283.10 216.50,285.50 218.00,285.50 218.00,286.70 219.50,286.70 219.50,287.90 220.10,287.90 220.10,290.00 220.70,290.00 220.70,292.10 221.50,292.10 221.50,294.10 222.30,294.10 222.30,296.10 223.10,296.10 223.10,298.10 223.70,298.10 223.70,299.90 224.30,299.90 224.30,301.70 224.90,301.70 224.90,303.50 225.50,303.50 225.50,305.30 226.30,305.30 226.30,307.13 227.10,307.13 227.10,308.97 227.90,308.97 227.90,310.80 229.10,310.80 229.10,312.80 230.30,312.80 230.30,314.80 231.50,314.80 231.50,316.80 233.30,316.80 233.30,319.20 235.10,319.20 235.10,321.60 236.95,321.60 236.95,323.40 238.80,323.40 238.80,325.20 240.80,325.20 240.80,326.60 242.80,326.60 242.80,328.00 245.10,328.00 245.10,329.75 247.40,329.75 247.40,331.50 249.33,331.50 249.33,332.07 251.27,332.07 251.27,332.63 253.20,332.63 253.20,333.20 255.10,333.20 255.10,334.37 257.00,334.37 257.00,335.53 258.90,335.53 258.90,336.70 260.65,336.70 260.65,337.25 262.40,337.25 262.40,337.80 263.85,337.80 263.85,339.65 265.30,339.65 265.30,341.50" fill="none" stroke="#a9283f" stroke-width="1.0" stroke-linejoin="miter" opacity="0.8"/>
<polyline points="278.00,341.50 279.10,341.50 279.10,343.50" fill="none" stroke="#a9283f" stroke-width="1.0" stroke-linejoin="miter" opacity="0.8"/>
<line x1="268.50" y1="339.20" x2="268.50" y2="343.80" stroke="#a9283f" stroke-width="0.75" opacity="0.5"/>
<line x1="270.50" y1="339.20" x2="270.50" y2="343.80" stroke="#a9283f" stroke-width="0.75" opacity="0.5"/>
<line x1="273.50" y1="339.20" x2="273.50" y2="343.80" stroke="#a9283f" stroke-width="0.75" opacity="0.5"/>
<line x1="275.50" y1="339.20" x2="275.50" y2="343.80" stroke="#a9283f" stroke-width="0.75" opacity="0.5"/>
<line x1="288.50" y1="344.20" x2="288.50" y2="348.80" stroke="#a9283f" stroke-width="0.75" opacity="0.5"/>
<line x1="290.50" y1="344.20" x2="290.50" y2="348.80" stroke="#a9283f" stroke-width="0.75" opacity="0.5"/>
<line x1="294.50" y1="344.20" x2="294.50" y2="348.80" stroke="#a9283f" stroke-width="0.75" opacity="0.5"/>
<line x1="296.50" y1="344.20" x2="296.50" y2="348.80" stroke="#a9283f" stroke-width="0.75" opacity="0.5"/>
<line x1="298.50" y1="344.20" x2="298.50" y2="348.80" stroke="#a9283f" stroke-width="0.75" opacity="0.5"/>
<line x1="305.50" y1="344.20" x2="305.50" y2="348.80" stroke="#a9283f" stroke-width="0.75" opacity="0.5"/>
<line x1="315.50" y1="344.20" x2="315.50" y2="348.80" stroke="#a9283f" stroke-width="0.75" opacity="0.5"/>
<line x1="323.50" y1="355.20" x2="323.50" y2="359.80" stroke="#a9283f" stroke-width="0.75" opacity="0.5"/>
<line x1="330.50" y1="355.20" x2="330.50" y2="359.80" stroke="#a9283f" stroke-width="0.75" opacity="0.5"/>
<line x1="222.50" y1="294.30" x2="222.50" y2="298.90" stroke="#a9283f" stroke-width="0.75" opacity="0.65"/>
<line x1="225.10" y1="301.80" x2="225.10" y2="306.40" stroke="#a9283f" stroke-width="0.75" opacity="0.65"/>
<line x1="227.70" y1="308.04" x2="227.70" y2="312.64" stroke="#a9283f" stroke-width="0.75" opacity="0.65"/>
<line x1="230.30" y1="312.50" x2="230.30" y2="317.10" stroke="#a9283f" stroke-width="0.75" opacity="0.65"/>
<line x1="232.90" y1="316.37" x2="232.90" y2="320.97" stroke="#a9283f" stroke-width="0.75" opacity="0.65"/>
<line x1="235.50" y1="319.69" x2="235.50" y2="324.29" stroke="#a9283f" stroke-width="0.75" opacity="0.65"/>
<line x1="238.10" y1="322.22" x2="238.10" y2="326.82" stroke="#a9283f" stroke-width="0.75" opacity="0.65"/>
<line x1="240.70" y1="324.23" x2="240.70" y2="328.83" stroke="#a9283f" stroke-width="0.75" opacity="0.65"/>
<line x1="243.30" y1="326.08" x2="243.30" y2="330.68" stroke="#a9283f" stroke-width="0.75" opacity="0.65"/>
<line x1="245.90" y1="328.06" x2="245.90" y2="332.66" stroke="#a9283f" stroke-width="0.75" opacity="0.65"/>
<line x1="248.50" y1="329.52" x2="248.50" y2="334.12" stroke="#a9283f" stroke-width="0.75" opacity="0.65"/>
<line x1="251.10" y1="330.28" x2="251.10" y2="334.88" stroke="#a9283f" stroke-width="0.75" opacity="0.65"/>
<line x1="253.70" y1="331.21" x2="253.70" y2="335.81" stroke="#a9283f" stroke-width="0.75" opacity="0.65"/>
<line x1="256.30" y1="332.80" x2="256.30" y2="337.40" stroke="#a9283f" stroke-width="0.75" opacity="0.65"/>
<line x1="258.90" y1="334.40" x2="258.90" y2="339.00" stroke="#a9283f" stroke-width="0.75" opacity="0.65"/>
<line x1="261.50" y1="335.22" x2="261.50" y2="339.82" stroke="#a9283f" stroke-width="0.75" opacity="0.65"/>
<line x1="264.10" y1="337.67" x2="264.10" y2="342.27" stroke="#a9283f" stroke-width="0.75" opacity="0.65"/>
<polyline points="211.30,273.80 211.86,273.80 211.86,275.78 212.42,275.78 212.42,277.76 212.98,277.76 212.98,279.74 213.54,279.74 213.54,281.72 214.10,281.72 214.10,283.70 214.40,283.70 214.40,285.50 214.70,285.50 214.70,287.30 215.00,287.30 215.00,289.10 215.30,289.10 215.30,290.90 216.10,290.90 216.10,292.90 216.90,292.90 216.90,294.90 217.70,294.90 217.70,296.90 218.50,296.90 218.50,298.93 219.30,298.93 219.30,300.97 220.10,300.97 220.10,303.00 220.70,303.00 220.70,304.80 221.30,304.80 221.30,306.60 221.90,306.60 221.90,308.40 222.50,308.40 222.50,310.20 223.50,310.20 223.50,312.20 224.50,312.20 224.50,314.20 225.50,314.20 225.50,316.20 227.00,316.20 227.00,318.60 228.50,318.60 228.50,321.00 229.03,321.00 229.03,323.13 229.57,323.13 229.57,325.27 230.10,325.27 230.10,327.40 231.85,327.40 231.85,329.75 233.60,329.75 233.60,332.10 235.05,332.10 235.05,333.80 236.50,333.80 236.50,335.50 238.50,335.50 238.50,336.65 240.50,336.65 240.50,337.80 242.80,337.80 242.80,339.25 245.10,339.25 245.10,340.70 247.40,340.70 247.40,342.15 249.70,342.15 249.70,343.60 252.00,343.60 252.00,344.75 254.30,344.75 254.30,345.90 256.23,345.90 256.23,346.47 258.17,346.47 258.17,347.03 260.10,347.03 260.10,347.60 262.03,347.60 262.03,348.23 263.97,348.23 263.97,348.87 265.90,348.87 265.90,349.50 276.20,349.50 277.10,349.50 277.10,351.00 278.00,351.00 278.00,352.50 298.50,352.50 298.50,356.50 300.50,356.50 300.50,362.50 318.50,362.50 318.50,375.50 343.00,375.50" fill="none" stroke="#6780a6" stroke-width="1.0" stroke-linejoin="miter"/>
<polyline points="211.30,273.80 211.86,273.80 211.86,275.78 212.42,275.78 212.42,277.76 212.98,277.76 212.98,279.74 213.54,279.74 213.54,281.72 214.10,281.72 214.10,283.70 214.40,283.70 214.40,285.50 214.70,285.50 214.70,287.30 215.00,287.30 215.00,289.10 215.30,289.10 215.30,290.90 216.10,290.90 216.10,292.90 216.90,292.90 216.90,294.90 217.70,294.90 217.70,296.90 218.50,296.90 218.50,298.93 219.30,298.93 219.30,300.97 220.10,300.97 220.10,303.00 220.70,303.00 220.70,304.80 221.30,304.80 221.30,306.60 221.90,306.60 221.90,308.40 222.50,308.40 222.50,310.20 223.50,310.20 223.50,312.20 224.50,312.20 224.50,314.20 225.50,314.20 225.50,316.20 227.00,316.20 227.00,318.60 228.50,318.60 228.50,321.00 229.03,321.00 229.03,323.13 229.57,323.13 229.57,325.27 230.10,325.27 230.10,327.40 231.85,327.40 231.85,329.75 233.60,329.75 233.60,332.10 235.05,332.10 235.05,333.80 236.50,333.80 236.50,335.50 238.50,335.50 238.50,336.65 240.50,336.65 240.50,337.80 242.80,337.80 242.80,339.25 245.10,339.25 245.10,340.70 247.40,340.70 247.40,342.15 249.70,342.15 249.70,343.60 252.00,343.60 252.00,344.75 254.30,344.75 254.30,345.90 256.23,345.90 256.23,346.47 258.17,346.47 258.17,347.03 260.10,347.03 260.10,347.60 262.03,347.60 262.03,348.23 263.97,348.23 263.97,348.87 265.90,348.87 265.90,349.50" fill="none" stroke="#37537f" stroke-width="1.0" stroke-linejoin="miter" opacity="0.8"/>
<polyline points="276.20,349.50 277.10,349.50 277.10,351.00 278.00,351.00 278.00,352.50" fill="none" stroke="#37537f" stroke-width="1.0" stroke-linejoin="miter" opacity="0.8"/>
<line x1="283.50" y1="350.20" x2="283.50" y2="354.80" stroke="#37537f" stroke-width="0.75" opacity="0.5"/>
<line x1="288.50" y1="350.20" x2="288.50" y2="354.80" stroke="#37537f" stroke-width="0.75" opacity="0.5"/>
<line x1="290.50" y1="350.20" x2="290.50" y2="354.80" stroke="#37537f" stroke-width="0.75" opacity="0.5"/>
<line x1="292.50" y1="350.20" x2="292.50" y2="354.80" stroke="#37537f" stroke-width="0.75" opacity="0.5"/>
<line x1="307.00" y1="360.20" x2="307.00" y2="364.80" stroke="#37537f" stroke-width="0.75" opacity="0.5"/>
<line x1="328.00" y1="373.20" x2="328.00" y2="377.80" stroke="#37537f" stroke-width="0.75" opacity="0.5"/>
<line x1="228.50" y1="318.70" x2="228.50" y2="323.30" stroke="#37537f" stroke-width="0.75" opacity="0.65"/>
<line x1="231.10" y1="326.44" x2="231.10" y2="331.04" stroke="#37537f" stroke-width="0.75" opacity="0.65"/>
<line x1="233.70" y1="329.92" x2="233.70" y2="334.52" stroke="#37537f" stroke-width="0.75" opacity="0.65"/>
<line x1="236.30" y1="332.97" x2="236.30" y2="337.57" stroke="#37537f" stroke-width="0.75" opacity="0.65"/>
<line x1="238.90" y1="334.58" x2="238.90" y2="339.18" stroke="#37537f" stroke-width="0.75" opacity="0.65"/>
<line x1="241.50" y1="336.13" x2="241.50" y2="340.73" stroke="#37537f" stroke-width="0.75" opacity="0.65"/>
<line x1="244.10" y1="337.77" x2="244.10" y2="342.37" stroke="#37537f" stroke-width="0.75" opacity="0.65"/>
<line x1="246.70" y1="339.41" x2="246.70" y2="344.01" stroke="#37537f" stroke-width="0.75" opacity="0.65"/>
<line x1="249.30" y1="341.05" x2="249.30" y2="345.65" stroke="#37537f" stroke-width="0.75" opacity="0.65"/>
<line x1="251.90" y1="342.40" x2="251.90" y2="347.00" stroke="#37537f" stroke-width="0.75" opacity="0.65"/>
<line x1="254.50" y1="343.66" x2="254.50" y2="348.26" stroke="#37537f" stroke-width="0.75" opacity="0.65"/>
<line x1="257.10" y1="344.42" x2="257.10" y2="349.02" stroke="#37537f" stroke-width="0.75" opacity="0.65"/>
<line x1="259.70" y1="345.18" x2="259.70" y2="349.78" stroke="#37537f" stroke-width="0.75" opacity="0.65"/>
<line x1="262.30" y1="346.02" x2="262.30" y2="350.62" stroke="#37537f" stroke-width="0.75" opacity="0.65"/>
<line x1="264.90" y1="346.87" x2="264.90" y2="351.47" stroke="#37537f" stroke-width="0.75" opacity="0.65"/>
<line x1="267.50" y1="347.20" x2="267.50" y2="351.80" stroke="#37537f" stroke-width="0.75" opacity="0.65"/>
<line x1="270.10" y1="347.20" x2="270.10" y2="351.80" stroke="#37537f" stroke-width="0.75" opacity="0.65"/>
<line x1="272.70" y1="347.20" x2="272.70" y2="351.80" stroke="#37537f" stroke-width="0.75" opacity="0.65"/>
<text x="204.40" y="446.35" font-size="5.1" fill="#2e2e2e" textLength="33.8" lengthAdjust="spacingAndGlyphs">Number at risk</text>
<line x1="205.20" y1="450.50" x2="205.20" y2="468.80" stroke="#2c2c2c" stroke-width="1.3"/>
<line x1="204.60" y1="468.20" x2="343.20" y2="468.20" stroke="#2c2c2c" stroke-width="1.3"/>
<line x1="211.80" y1="468.20" x2="211.80" y2="471.60" stroke="#2c2c2c" stroke-width="1.2"/>
<text x="211.80" y="479.55" font-size="5.1" fill="#444" text-anchor="middle">0</text>
<text x="211.80" y="457.65" font-size="5.1" fill="#2e2e2e" text-anchor="middle">140</text>
<text x="211.80" y="463.95" font-size="5.1" fill="#2e2e2e" text-anchor="middle">141</text>
<line x1="243.08" y1="468.20" x2="243.08" y2="471.60" stroke="#2c2c2c" stroke-width="1.2"/>
<text x="243.08" y="479.55" font-size="5.1" fill="#444" text-anchor="middle">2</text>
<text x="243.08" y="457.65" font-size="5.1" fill="#2e2e2e" text-anchor="middle">65</text>
<text x="243.08" y="463.95" font-size="5.1" fill="#2e2e2e" text-anchor="middle">62</text>
<line x1="274.35" y1="468.20" x2="274.35" y2="471.60" stroke="#2c2c2c" stroke-width="1.2"/>
<text x="274.35" y="479.55" font-size="5.1" fill="#444" text-anchor="middle">4</text>
<text x="274.35" y="457.65" font-size="5.1" fill="#2e2e2e" text-anchor="middle">26</text>
<text x="274.35" y="463.95" font-size="5.1" fill="#2e2e2e" text-anchor="middle">29</text>
<line x1="305.62" y1="468.20" x2="305.62" y2="471.60" stroke="#2c2c2c" stroke-width="1.2"/>
<text x="305.62" y="479.55" font-size="5.1" fill="#444" text-anchor="middle">6</text>
<text x="305.62" y="457.65" font-size="5.1" fill="#2e2e2e" text-anchor="middle">8</text>
<text x="305.62" y="463.95" font-size="5.1" fill="#2e2e2e" text-anchor="middle">5</text>
<line x1="336.90" y1="468.20" x2="336.90" y2="471.60" stroke="#2c2c2c" stroke-width="1.2"/>
<text x="336.90" y="479.55" font-size="5.1" fill="#444" text-anchor="middle">8</text>
<text x="336.90" y="457.65" font-size="5.1" fill="#2e2e2e" text-anchor="middle">1</text>
<text x="336.90" y="463.95" font-size="5.1" fill="#2e2e2e" text-anchor="middle">1</text>
<text x="274.20" y="489.60" font-size="8.3" fill="#333" text-anchor="middle" textLength="101.5" lengthAdjust="spacingAndGlyphs">Progression–free survival (years)</text>
<text transform="translate(189.90,481.50) rotate(-90)" font-size="5.2" fill="#333" textLength="16.3" lengthAdjust="spacingAndGlyphs">miR155</text>
<text transform="translate(189.90,461.70) rotate(-90)" font-size="5.2" fill="#333" textLength="24.3" lengthAdjust="spacingAndGlyphs">expression</text>
<line x1="193.90" y1="456.30" x2="201.70" y2="456.30" stroke="#c25a6c" stroke-width="1.1"/>
<line x1="193.90" y1="462.30" x2="201.70" y2="462.30" stroke="#6a85ad" stroke-width="1.1"/>
<text x="347.40" y="260.50" font-size="11.3" fill="#111">F</text>
<line x1="374.80" y1="266.60" x2="374.80" y2="410.50" stroke="#2c2c2c" stroke-width="1.3"/>
<line x1="374.20" y1="409.90" x2="512.60" y2="409.90" stroke="#2c2c2c" stroke-width="1.3"/>
<line x1="371.60" y1="273.10" x2="374.80" y2="273.10" stroke="#2c2c2c" stroke-width="1.0"/>
<text x="368.90" y="275.30" font-size="5.3" fill="#333" text-anchor="end" textLength="9.6" lengthAdjust="spacingAndGlyphs">1.00</text>
<line x1="371.60" y1="305.68" x2="374.80" y2="305.68" stroke="#2c2c2c" stroke-width="1.0"/>
<text x="368.90" y="307.88" font-size="5.3" fill="#333" text-anchor="end" textLength="9.6" lengthAdjust="spacingAndGlyphs">0.75</text>
<line x1="371.60" y1="338.25" x2="374.80" y2="338.25" stroke="#2c2c2c" stroke-width="1.0"/>
<text x="368.90" y="340.45" font-size="5.3" fill="#333" text-anchor="end" textLength="9.6" lengthAdjust="spacingAndGlyphs">0.50</text>
<line x1="371.60" y1="370.82" x2="374.80" y2="370.82" stroke="#2c2c2c" stroke-width="1.0"/>
<text x="368.90" y="373.02" font-size="5.3" fill="#333" text-anchor="end" textLength="9.6" lengthAdjust="spacingAndGlyphs">0.25</text>
<line x1="371.60" y1="403.40" x2="374.80" y2="403.40" stroke="#2c2c2c" stroke-width="1.0"/>
<text x="368.90" y="405.60" font-size="5.3" fill="#333" text-anchor="end" textLength="9.6" lengthAdjust="spacingAndGlyphs">0.00</text>
<line x1="381.20" y1="409.90" x2="381.20" y2="413.20" stroke="#2c2c2c" stroke-width="1.2"/>
<text x="381.20" y="420.85" font-size="5.1" fill="#444" text-anchor="middle">0</text>
<line x1="406.22" y1="409.90" x2="406.22" y2="413.20" stroke="#2c2c2c" stroke-width="1.2"/>
<text x="406.22" y="420.85" font-size="5.1" fill="#444" text-anchor="middle">2</text>
<line x1="431.24" y1="409.90" x2="431.24" y2="413.20" stroke="#2c2c2c" stroke-width="1.2"/>
<text x="431.24" y="420.85" font-size="5.1" fill="#444" text-anchor="middle">4</text>
<line x1="456.26" y1="409.90" x2="456.26" y2="413.20" stroke="#2c2c2c" stroke-width="1.2"/>
<text x="456.26" y="420.85" font-size="5.1" fill="#444" text-anchor="middle">6</text>
<line x1="481.28" y1="409.90" x2="481.28" y2="413.20" stroke="#2c2c2c" stroke-width="1.2"/>
<text x="481.28" y="420.85" font-size="5.1" fill="#444" text-anchor="middle">8</text>
<line x1="506.30" y1="409.90" x2="506.30" y2="413.20" stroke="#2c2c2c" stroke-width="1.2"/>
<text x="506.30" y="420.85" font-size="5.1" fill="#444" text-anchor="middle">10</text>
<text transform="translate(352.20,337.85) rotate(-90)" font-size="7.6" fill="#333" text-anchor="middle" textLength="60.7" lengthAdjust="spacingAndGlyphs">Survival probability</text>
<text x="443.60" y="432.35" font-size="8.3" fill="#333" text-anchor="middle" textLength="101.5" lengthAdjust="spacingAndGlyphs">Progression–free survival (years)</text>
<text x="508.80" y="277.30" font-size="4.1" fill="#555" text-anchor="end">p &lt; 0.0001</text>
<text x="377.40" y="391.00" font-size="4.1" fill="#555" textLength="34.6" lengthAdjust="spacingAndGlyphs">miR155 expression</text>
<line x1="377.70" y1="397.10" x2="382.20" y2="397.10" stroke="#bb5164" stroke-width="1.1"/>
<line x1="380.00" y1="395.40" x2="380.00" y2="398.60" stroke="#a9283f" stroke-width="0.6"/>
<text x="384.40" y="398.20" font-size="4.3" fill="#555" textLength="9.4" lengthAdjust="spacingAndGlyphs">High</text>
<line x1="377.70" y1="405.10" x2="382.20" y2="405.10" stroke="#6780a6" stroke-width="1.1"/>
<line x1="380.00" y1="403.30" x2="380.00" y2="406.50" stroke="#37537f" stroke-width="0.6"/>
<text x="384.50" y="406.00" font-size="4.3" fill="#555" textLength="8.2" lengthAdjust="spacingAndGlyphs">Low</text>
<polyline points="380.90,273.80 382.97,273.80 382.97,275.10 385.03,275.10 385.03,276.40 387.10,276.40 387.10,277.70 388.30,277.70 388.30,279.50 389.50,279.50 389.50,281.30 391.30,281.30 391.30,283.70 393.10,283.70 393.10,286.10 394.90,286.10 394.90,287.30 396.70,287.30 396.70,288.50 398.20,288.50 398.20,290.00 399.70,290.00 399.70,291.50 406.30,291.50 408.15,291.50 408.15,293.30 410.00,293.30 410.00,295.10 411.20,295.10 411.20,296.60 412.40,296.60 412.40,298.10 414.80,298.10 414.80,298.40 417.20,298.40 417.20,298.70 419.60,298.70 419.60,298.50 435.50,298.50 435.50,301.50 444.90,301.50 445.45,301.50 445.45,303.50 446.00,303.50 446.00,305.50 457.50,305.50 457.50,314.50 479.50,314.50" fill="none" stroke="#bb5164" stroke-width="1.0" stroke-linejoin="miter"/>
<polyline points="380.90,273.80 382.97,273.80 382.97,275.10 385.03,275.10 385.03,276.40 387.10,276.40 387.10,277.70 388.30,277.70 388.30,279.50 389.50,279.50 389.50,281.30 391.30,281.30 391.30,283.70 393.10,283.70 393.10,286.10 394.90,286.10 394.90,287.30 396.70,287.30 396.70,288.50 398.20,288.50 398.20,290.00 399.70,290.00 399.70,291.50" fill="none" stroke="#a9283f" stroke-width="1.0" stroke-linejoin="miter" opacity="0.8"/>
<polyline points="406.30,291.50 408.15,291.50 408.15,293.30 410.00,293.30 410.00,295.10 411.20,295.10 411.20,296.60 412.40,296.60 412.40,298.10 414.80,298.10 414.80,298.40 417.20,298.40 417.20,298.70 419.60,298.70 419.60,298.50" fill="none" stroke="#a9283f" stroke-width="1.0" stroke-linejoin="miter" opacity="0.8"/>
<polyline points="444.90,301.50 445.45,301.50 445.45,303.50 446.00,303.50 446.00,305.50" fill="none" stroke="#a9283f" stroke-width="1.0" stroke-linejoin="miter" opacity="0.8"/>
<line x1="402.50" y1="289.20" x2="402.50" y2="293.80" stroke="#a9283f" stroke-width="0.75" opacity="0.5"/>
<line x1="404.50" y1="289.20" x2="404.50" y2="293.80" stroke="#a9283f" stroke-width="0.75" opacity="0.5"/>
<line x1="421.50" y1="296.20" x2="421.50" y2="300.80" stroke="#a9283f" stroke-width="0.75" opacity="0.5"/>
<line x1="424.50" y1="296.20" x2="424.50" y2="300.80" stroke="#a9283f" stroke-width="0.75" opacity="0.5"/>
<line x1="427.50" y1="296.20" x2="427.50" y2="300.80" stroke="#a9283f" stroke-width="0.75" opacity="0.5"/>
<line x1="431.50" y1="296.20" x2="431.50" y2="300.80" stroke="#a9283f" stroke-width="0.75" opacity="0.5"/>
<line x1="433.50" y1="296.20" x2="433.50" y2="300.80" stroke="#a9283f" stroke-width="0.75" opacity="0.5"/>
<line x1="437.50" y1="299.20" x2="437.50" y2="303.80" stroke="#a9283f" stroke-width="0.75" opacity="0.5"/>
<line x1="439.50" y1="299.20" x2="439.50" y2="303.80" stroke="#a9283f" stroke-width="0.75" opacity="0.5"/>
<line x1="441.50" y1="299.20" x2="441.50" y2="303.80" stroke="#a9283f" stroke-width="0.75" opacity="0.5"/>
<line x1="447.50" y1="303.20" x2="447.50" y2="307.80" stroke="#a9283f" stroke-width="0.75" opacity="0.5"/>
<line x1="449.50" y1="303.20" x2="449.50" y2="307.80" stroke="#a9283f" stroke-width="0.75" opacity="0.5"/>
<line x1="454.50" y1="303.20" x2="454.50" y2="307.80" stroke="#a9283f" stroke-width="0.75" opacity="0.5"/>
<line x1="459.50" y1="312.20" x2="459.50" y2="316.80" stroke="#a9283f" stroke-width="0.75" opacity="0.5"/>
<line x1="461.50" y1="312.20" x2="461.50" y2="316.80" stroke="#a9283f" stroke-width="0.75" opacity="0.5"/>
<line x1="468.50" y1="312.20" x2="468.50" y2="316.80" stroke="#a9283f" stroke-width="0.75" opacity="0.5"/>
<line x1="472.50" y1="312.20" x2="472.50" y2="316.80" stroke="#a9283f" stroke-width="0.75" opacity="0.5"/>
<line x1="479.50" y1="312.20" x2="479.50" y2="316.80" stroke="#a9283f" stroke-width="0.75" opacity="0.5"/>
<line x1="390.50" y1="280.33" x2="390.50" y2="284.93" stroke="#a9283f" stroke-width="0.75" opacity="0.65"/>
<line x1="393.10" y1="283.80" x2="393.10" y2="288.40" stroke="#a9283f" stroke-width="0.75" opacity="0.65"/>
<line x1="395.70" y1="285.53" x2="395.70" y2="290.13" stroke="#a9283f" stroke-width="0.75" opacity="0.65"/>
<line x1="398.30" y1="287.80" x2="398.30" y2="292.40" stroke="#a9283f" stroke-width="0.75" opacity="0.65"/>
<line x1="400.90" y1="289.20" x2="400.90" y2="293.80" stroke="#a9283f" stroke-width="0.75" opacity="0.65"/>
<line x1="403.50" y1="289.20" x2="403.50" y2="293.80" stroke="#a9283f" stroke-width="0.75" opacity="0.65"/>
<line x1="406.10" y1="289.20" x2="406.10" y2="293.80" stroke="#a9283f" stroke-width="0.75" opacity="0.65"/>
<line x1="408.70" y1="291.54" x2="408.70" y2="296.14" stroke="#a9283f" stroke-width="0.75" opacity="0.65"/>
<line x1="411.30" y1="294.42" x2="411.30" y2="299.02" stroke="#a9283f" stroke-width="0.75" opacity="0.65"/>
<line x1="413.90" y1="295.99" x2="413.90" y2="300.59" stroke="#a9283f" stroke-width="0.75" opacity="0.65"/>
<line x1="416.50" y1="296.31" x2="416.50" y2="300.91" stroke="#a9283f" stroke-width="0.75" opacity="0.65"/>
<polyline points="380.90,273.80 381.40,273.80 381.40,275.67 381.90,275.67 381.90,277.55 382.40,277.55 382.40,279.43 382.90,279.43 382.90,281.30 383.50,281.30 383.50,283.70 384.10,283.70 384.10,286.10 385.30,286.10 385.30,287.90 386.50,287.90 386.50,289.70 387.70,289.70 387.70,291.20 388.90,291.20 388.90,292.70 389.50,292.70 389.50,294.80 390.10,294.80 390.10,296.90 390.70,296.90 390.70,298.93 391.30,298.93 391.30,300.97 391.90,300.97 391.90,303.00 392.50,303.00 392.50,305.00 393.10,305.00 393.10,307.00 393.70,307.00 393.70,309.00 396.10,309.00 396.10,311.40 397.90,311.40 397.90,312.30 399.70,312.30 399.70,313.20 401.20,313.20 401.20,314.10 402.70,314.10 402.70,315.00 404.40,315.00 404.40,316.20 406.10,316.20 406.10,317.40 407.70,317.40 407.70,319.80 408.80,319.80 408.80,322.50 417.20,322.50 419.00,322.50 419.00,323.50 430.40,323.50 432.80,323.50 432.80,325.50 436.50,325.50 436.50,327.50 450.90,327.50 451.73,327.50 451.73,329.30 452.57,329.30 452.57,331.10 453.40,331.10 453.40,332.90 455.80,332.90 455.80,335.50 466.50,335.50 466.50,342.50 510.50,342.50" fill="none" stroke="#6780a6" stroke-width="1.0" stroke-linejoin="miter"/>
<polyline points="380.90,273.80 381.40,273.80 381.40,275.67 381.90,275.67 381.90,277.55 382.40,277.55 382.40,279.43 382.90,279.43 382.90,281.30 383.50,281.30 383.50,283.70 384.10,283.70 384.10,286.10 385.30,286.10 385.30,287.90 386.50,287.90 386.50,289.70 387.70,289.70 387.70,291.20 388.90,291.20 388.90,292.70 389.50,292.70 389.50,294.80 390.10,294.80 390.10,296.90 390.70,296.90 390.70,298.93 391.30,298.93 391.30,300.97 391.90,300.97 391.90,303.00 392.50,303.00 392.50,305.00 393.10,305.00 393.10,307.00 393.70,307.00 393.70,309.00 396.10,309.00 396.10,311.40 397.90,311.40 397.90,312.30 399.70,312.30 399.70,313.20 401.20,313.20 401.20,314.10 402.70,314.10 402.70,315.00 404.40,315.00 404.40,316.20 406.10,316.20 406.10,317.40 407.70,317.40 407.70,319.80 408.80,319.80 408.80,322.50" fill="none" stroke="#37537f" stroke-width="1.0" stroke-linejoin="miter" opacity="0.8"/>
<polyline points="417.20,322.50 419.00,322.50 419.00,323.50" fill="none" stroke="#37537f" stroke-width="1.0" stroke-linejoin="miter" opacity="0.8"/>
<polyline points="430.40,323.50 432.80,323.50 432.80,325.50" fill="none" stroke="#37537f" stroke-width="1.0" stroke-linejoin="miter" opacity="0.8"/>
<polyline points="450.90,327.50 451.73,327.50 451.73,329.30 452.57,329.30 452.57,331.10 453.40,331.10 453.40,332.90 455.80,332.90 455.80,335.50" fill="none" stroke="#37537f" stroke-width="1.0" stroke-linejoin="miter" opacity="0.8"/>
<line x1="411.50" y1="320.20" x2="411.50" y2="324.80" stroke="#37537f" stroke-width="0.75" opacity="0.5"/>
<line x1="413.50" y1="320.20" x2="413.50" y2="324.80" stroke="#37537f" stroke-width="0.75" opacity="0.5"/>
<line x1="421.50" y1="321.20" x2="421.50" y2="325.80" stroke="#37537f" stroke-width="0.75" opacity="0.5"/>
<line x1="423.50" y1="321.20" x2="423.50" y2="325.80" stroke="#37537f" stroke-width="0.75" opacity="0.5"/>
<line x1="427.50" y1="321.20" x2="427.50" y2="325.80" stroke="#37537f" stroke-width="0.75" opacity="0.5"/>
<line x1="438.50" y1="325.20" x2="438.50" y2="329.80" stroke="#37537f" stroke-width="0.75" opacity="0.5"/>
<line x1="441.50" y1="325.20" x2="441.50" y2="329.80" stroke="#37537f" stroke-width="0.75" opacity="0.5"/>
<line x1="444.50" y1="325.20" x2="444.50" y2="329.80" stroke="#37537f" stroke-width="0.75" opacity="0.5"/>
<line x1="448.50" y1="325.20" x2="448.50" y2="329.80" stroke="#37537f" stroke-width="0.75" opacity="0.5"/>
<line x1="458.50" y1="333.20" x2="458.50" y2="337.80" stroke="#37537f" stroke-width="0.75" opacity="0.5"/>
<line x1="461.50" y1="333.20" x2="461.50" y2="337.80" stroke="#37537f" stroke-width="0.75" opacity="0.5"/>
<line x1="464.50" y1="333.20" x2="464.50" y2="337.80" stroke="#37537f" stroke-width="0.75" opacity="0.5"/>
<line x1="471.50" y1="340.20" x2="471.50" y2="344.80" stroke="#37537f" stroke-width="0.75" opacity="0.5"/>
<line x1="476.50" y1="340.20" x2="476.50" y2="344.80" stroke="#37537f" stroke-width="0.75" opacity="0.5"/>
<line x1="485.50" y1="340.20" x2="485.50" y2="344.80" stroke="#37537f" stroke-width="0.75" opacity="0.5"/>
<line x1="488.50" y1="340.20" x2="488.50" y2="344.80" stroke="#37537f" stroke-width="0.75" opacity="0.5"/>
<line x1="492.50" y1="340.20" x2="492.50" y2="344.80" stroke="#37537f" stroke-width="0.75" opacity="0.5"/>
<line x1="510.50" y1="340.20" x2="510.50" y2="344.80" stroke="#37537f" stroke-width="0.75" opacity="0.5"/>
<line x1="396.50" y1="309.30" x2="396.50" y2="313.90" stroke="#37537f" stroke-width="0.75" opacity="0.65"/>
<line x1="399.10" y1="310.60" x2="399.10" y2="315.20" stroke="#37537f" stroke-width="0.75" opacity="0.65"/>
<line x1="401.70" y1="312.10" x2="401.70" y2="316.70" stroke="#37537f" stroke-width="0.75" opacity="0.65"/>
<line x1="404.30" y1="313.83" x2="404.30" y2="318.43" stroke="#37537f" stroke-width="0.75" opacity="0.65"/>
<line x1="406.90" y1="316.30" x2="406.90" y2="320.90" stroke="#37537f" stroke-width="0.75" opacity="0.65"/>
<text x="373.80" y="446.35" font-size="5.1" fill="#2e2e2e" textLength="33.8" lengthAdjust="spacingAndGlyphs">Number at risk</text>
<line x1="374.60" y1="450.50" x2="374.60" y2="468.80" stroke="#2c2c2c" stroke-width="1.3"/>
<line x1="374.00" y1="468.20" x2="512.60" y2="468.20" stroke="#2c2c2c" stroke-width="1.3"/>
<line x1="381.20" y1="468.20" x2="381.20" y2="471.60" stroke="#2c2c2c" stroke-width="1.2"/>
<text x="381.20" y="479.55" font-size="5.1" fill="#444" text-anchor="middle">0</text>
<text x="381.20" y="457.65" font-size="5.1" fill="#2e2e2e" text-anchor="middle">151</text>
<text x="381.20" y="463.95" font-size="5.1" fill="#2e2e2e" text-anchor="middle">151</text>
<line x1="406.22" y1="468.20" x2="406.22" y2="471.60" stroke="#2c2c2c" stroke-width="1.2"/>
<text x="406.22" y="479.55" font-size="5.1" fill="#444" text-anchor="middle">2</text>
<text x="406.22" y="457.65" font-size="5.1" fill="#2e2e2e" text-anchor="middle">100</text>
<text x="406.22" y="463.95" font-size="5.1" fill="#2e2e2e" text-anchor="middle">81</text>
<line x1="431.24" y1="468.20" x2="431.24" y2="471.60" stroke="#2c2c2c" stroke-width="1.2"/>
<text x="431.24" y="479.55" font-size="5.1" fill="#444" text-anchor="middle">4</text>
<text x="431.24" y="457.65" font-size="5.1" fill="#2e2e2e" text-anchor="middle">50</text>
<text x="431.24" y="463.95" font-size="5.1" fill="#2e2e2e" text-anchor="middle">42</text>
<line x1="456.26" y1="468.20" x2="456.26" y2="471.60" stroke="#2c2c2c" stroke-width="1.2"/>
<text x="456.26" y="479.55" font-size="5.1" fill="#444" text-anchor="middle">6</text>
<text x="456.26" y="457.65" font-size="5.1" fill="#2e2e2e" text-anchor="middle">11</text>
<text x="456.26" y="463.95" font-size="5.1" fill="#2e2e2e" text-anchor="middle">16</text>
<line x1="481.28" y1="468.20" x2="481.28" y2="471.60" stroke="#2c2c2c" stroke-width="1.2"/>
<text x="481.28" y="479.55" font-size="5.1" fill="#444" text-anchor="middle">8</text>
<text x="481.28" y="457.65" font-size="5.1" fill="#777" text-anchor="middle">0</text>
<text x="481.28" y="463.95" font-size="5.1" fill="#2e2e2e" text-anchor="middle">4</text>
<line x1="506.30" y1="468.20" x2="506.30" y2="471.60" stroke="#2c2c2c" stroke-width="1.2"/>
<text x="506.30" y="479.55" font-size="5.1" fill="#444" text-anchor="middle">10</text>
<text x="506.30" y="457.65" font-size="5.1" fill="#777" text-anchor="middle">0</text>
<text x="506.30" y="463.95" font-size="5.1" fill="#2e2e2e" text-anchor="middle">1</text>
<text x="443.60" y="489.60" font-size="8.3" fill="#333" text-anchor="middle" textLength="101.5" lengthAdjust="spacingAndGlyphs">Progression–free survival (years)</text>
<text transform="translate(359.30,481.50) rotate(-90)" font-size="5.2" fill="#333" textLength="16.3" lengthAdjust="spacingAndGlyphs">miR155</text>
<text transform="translate(359.30,461.70) rotate(-90)" font-size="5.2" fill="#333" textLength="24.3" lengthAdjust="spacingAndGlyphs">expression</text>
<line x1="363.30" y1="456.30" x2="371.10" y2="456.30" stroke="#c25a6c" stroke-width="1.1"/>
<line x1="363.30" y1="462.30" x2="371.10" y2="462.30" stroke="#6a85ad" stroke-width="1.1"/>
<rect x="518" y="1" width="1" height="497" fill="#bdbdbd"/>
<rect x="519" y="1" width="1" height="497" fill="#4a4a4a"/>
<rect x="1" y="497" width="518" height="1" fill="#bdbdbd"/>
<rect x="0" y="498" width="519" height="1" fill="#4a4a4a"/>
<rect x="519" y="498" width="1" height="1" fill="#999"/>
<rect x="0" y="0" width="519" height="1" fill="#000"/>
<rect x="519" y="0" width="1" height="1" fill="#808080"/>
<rect x="0" y="0" width="1" height="498" fill="#000"/>
</svg>
</body></html>
